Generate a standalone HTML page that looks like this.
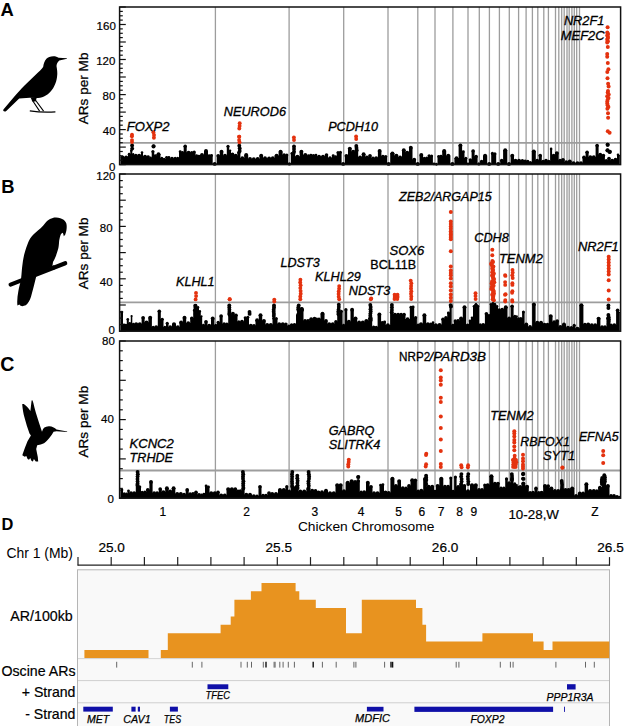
<!DOCTYPE html>
<html><head><meta charset="utf-8"><style>
html,body{margin:0;padding:0;background:#fff;}
svg{display:block;font-family:"Liberation Sans",sans-serif;}
.it{font-style:italic;}
</style></head><body>
<svg width="624" height="726" viewBox="0 0 624 726">
<rect width="624" height="726" fill="#fff"/>
<g stroke="#9d9d9d" stroke-width="1.3"><line x1="215.4" y1="7.0" x2="215.4" y2="164.6"/><line x1="289.1" y1="7.0" x2="289.1" y2="164.6"/><line x1="343.7" y1="7.0" x2="343.7" y2="164.6"/><line x1="388.0" y1="7.0" x2="388.0" y2="164.6"/><line x1="417.8" y1="7.0" x2="417.8" y2="164.6"/><line x1="435.0" y1="7.0" x2="435.0" y2="164.6"/><line x1="452.9" y1="7.0" x2="452.9" y2="164.6"/><line x1="468.0" y1="7.0" x2="468.0" y2="164.6"/><line x1="479.3" y1="7.0" x2="479.3" y2="164.6"/><line x1="489.4" y1="7.0" x2="489.4" y2="164.6"/><line x1="499.4" y1="7.0" x2="499.4" y2="164.6"/><line x1="509.3" y1="7.0" x2="509.3" y2="164.6"/><line x1="518.6" y1="7.0" x2="518.6" y2="164.6"/><line x1="526.1" y1="7.0" x2="526.1" y2="164.6"/><line x1="532.4" y1="7.0" x2="532.4" y2="164.6"/><line x1="537.8" y1="7.0" x2="537.8" y2="164.6"/><line x1="543.8" y1="7.0" x2="543.8" y2="164.6"/><line x1="548.4" y1="7.0" x2="548.4" y2="164.6"/><line x1="555.5" y1="7.0" x2="555.5" y2="164.6"/><line x1="558.8" y1="7.0" x2="558.8" y2="164.6"/><line x1="561.7" y1="7.0" x2="561.7" y2="164.6"/><line x1="564.2" y1="7.0" x2="564.2" y2="164.6"/><line x1="567.0" y1="7.0" x2="567.0" y2="164.6"/><line x1="569.2" y1="7.0" x2="569.2" y2="164.6"/><line x1="571.9" y1="7.0" x2="571.9" y2="164.6"/><line x1="574.3" y1="7.0" x2="574.3" y2="164.6"/><line x1="576.7" y1="7.0" x2="576.7" y2="164.6"/><line x1="579.5" y1="7.0" x2="579.5" y2="164.6"/></g>
<line x1="119.6" y1="142.8" x2="620.6" y2="142.8" stroke="#9d9d9d" stroke-width="1.8"/>
<g fill="#000"><path d="M120.4 164.6V155.5H120.8V164.6zM120.8 164.6V157.1H124.5V164.6zM124.5 164.6V157.1H128.0V164.6zM128.0 164.6V153.9H130.3V164.6zM130.3 164.6V150.3H132.3V164.6zM132.3 164.6V153.9H134.0V164.6zM134.0 164.6V155.5H137.5V164.6zM137.5 164.6V155.5H141.0V164.6zM141.0 164.6V152.3H143.0V164.6zM143.0 164.6V156.3H147.0V164.6zM147.0 164.6V156.3H149.3V164.6zM149.3 164.6V157.7H151.7V164.6zM151.7 164.6V151.3H154.2V164.6zM154.2 164.6V155.5H156.5V164.6zM156.5 164.6V153.9H160.5V164.6zM160.5 164.6V157.9H163.0V164.6zM163.0 164.6V158.9H165.5V164.6zM165.5 164.6V157.1H167.7V164.6zM167.7 164.6V157.1H170.0V164.6zM170.0 164.6V158.5H174.0V164.6zM174.0 164.6V157.9H176.5V164.6zM176.5 164.6V158.1H179.0V164.6zM179.0 164.6V151.5H181.3V164.6zM181.3 164.6V152.2H183.7V164.6zM183.7 164.6V145.9H186.7V164.6zM186.7 164.6V152.3H190.5V164.6zM190.5 164.6V152.3H193.0V164.6zM193.0 164.6V151.7H195.5V164.6zM195.5 164.6V155.5H197.8V164.6zM197.8 164.6V155.8H200.0V164.6zM200.0 164.6V154.7H204.0V164.6zM204.0 164.6V150.7H208.0V164.6zM208.0 164.6V155.5H210.3V164.6zM210.3 164.6V155.2H212.7V164.6zM212.7 164.6V163.6H216.7V164.6zM216.7 164.6V155.5H219.8V164.6zM219.8 164.6V151.5H223.2V164.6zM223.2 164.6V155.5H226.8V164.6zM226.8 164.6V145.9H229.2V164.6zM229.2 164.6V150.3H231.0V164.6zM231.0 164.6V153.9H234.0V164.6zM234.0 164.6V155.5H237.4V164.6zM237.4 164.6V152.3H240.4V164.6zM240.4 164.6V157.9H244.2V164.6zM244.2 164.6V154.7H248.2V164.6zM248.2 164.6V158.7H251.8V164.6zM251.8 164.6V158.9H255.8V164.6zM255.8 164.6V158.7H259.5V164.6zM259.5 164.6V155.5H263.0V164.6zM263.0 164.6V157.9H267.1V164.6zM267.1 164.6V158.2H271.1V164.6zM271.1 164.6V157.9H274.5V164.6zM274.5 164.6V155.5H278.6V164.6zM278.6 164.6V151.5H282.6V164.6zM282.6 164.6V154.7H285.5V164.6zM285.5 164.6V154.7H288.1V164.6zM288.1 164.6V163.6H290.8V164.6zM290.8 164.6V153.1H293.0V164.6zM293.0 164.6V152.7H295.2V164.6zM295.2 164.6V156.3H299.6V164.6zM299.6 164.6V151.5H303.1V164.6zM303.1 164.6V154.7H307.5V164.6zM307.5 164.6V155.5H309.8V164.6zM309.8 164.6V155.0H312.0V164.6zM312.0 164.6V155.5H315.0V164.6zM315.0 164.6V154.7H317.0V164.6zM317.0 164.6V156.3H321.0V164.6zM321.0 164.6V156.3H325.0V164.6zM325.0 164.6V154.7H328.0V164.6zM328.0 164.6V157.9H332.0V164.6zM332.0 164.6V155.5H334.4V164.6zM334.4 164.6V156.4H336.8V164.6zM336.8 164.6V152.3H339.2V164.6zM339.2 164.6V152.0H341.6V164.6zM341.6 164.6V163.6H344.9V164.6zM344.9 164.6V155.5H348.0V164.6zM348.0 164.6V148.3H351.5V164.6zM351.5 164.6V151.5H354.8V164.6zM354.8 164.6V150.3H358.2V164.6zM358.2 164.6V157.1H361.9V164.6zM361.9 164.6V153.9H365.4V164.6zM365.4 164.6V157.1H368.5V164.6zM368.5 164.6V155.5H371.5V164.6zM371.5 164.6V157.9H374.5V164.6zM374.5 164.6V157.9H377.9V164.6zM377.9 164.6V150.7H381.4V164.6zM381.4 164.6V156.3H384.5V164.6zM384.5 164.6V156.3H387.0V164.6zM387.0 164.6V163.6H390.2V164.6zM390.2 164.6V153.1H394.5V164.6zM394.5 164.6V155.5H398.2V164.6zM398.2 164.6V157.1H402.0V164.6zM402.0 164.6V149.9H405.5V164.6zM405.5 164.6V152.3H409.0V164.6zM409.0 164.6V147.5H412.5V164.6zM412.5 164.6V159.5H415.9V164.6zM415.9 164.6V163.6H419.5V164.6zM419.5 164.6V154.7H423.1V164.6zM423.1 164.6V157.9H425.5V164.6zM425.5 164.6V157.8H427.9V164.6zM427.9 164.6V155.5H430.4V164.6zM430.4 164.6V155.7H432.9V164.6zM432.9 164.6V163.6H435.2V164.6zM435.2 164.6V164.0H437.5V164.6zM437.5 164.6V156.3H439.9V164.6zM439.9 164.6V155.9H442.2V164.6zM442.2 164.6V150.7H446.2V164.6zM446.2 164.6V155.5H450.4V164.6zM450.4 164.6V163.6H454.4V164.6zM454.4 164.6V157.9H458.6V164.6zM458.6 164.6V145.1H462.1V164.6zM462.1 164.6V151.5H464.5V164.6zM464.5 164.6V157.9H467.0V164.6zM467.0 164.6V163.6H469.0V164.6zM469.0 164.6V159.5H471.6V164.6zM471.6 164.6V150.7H474.6V164.6zM474.6 164.6V156.3H477.6V164.6zM477.6 164.6V163.6H480.1V164.6zM480.1 164.6V161.1H483.0V164.6zM483.0 164.6V155.5H487.2V164.6zM487.2 164.6V163.6H491.2V164.6zM491.2 164.6V153.1H493.7V164.6zM493.7 164.6V153.4H496.2V164.6zM496.2 164.6V163.6H500.2V164.6zM500.2 164.6V160.3H503.1V164.6zM503.1 164.6V149.9H507.3V164.6zM507.3 164.6V163.6H510.6V164.6zM510.6 164.6V155.5H514.0V164.6zM514.0 164.6V160.3H517.0V164.6zM517.0 164.6V160.3H521.0V164.6zM521.0 164.6V160.3H523.8V164.6zM523.8 164.6V160.8H526.5V164.6zM526.5 164.6V161.1H529.1V164.6zM529.1 164.6V162.3H531.8V164.6zM531.8 164.6V151.1H535.8V164.6zM535.8 164.6V160.3H538.8V164.6zM538.8 164.6V155.3H541.8V164.6zM541.8 164.6V161.1H544.5V164.6zM544.5 164.6V160.3H547.5V164.6zM547.5 164.6V161.1H550.1V164.6zM550.1 164.6V148.6H552.1V164.6zM552.1 164.6V155.3H555.1V164.6zM555.1 164.6V152.8H558.6V164.6zM558.6 164.6V160.3H561.5V164.6zM561.5 164.6V159.5H564.5V164.6zM564.5 164.6V162.0H568.0V164.6zM568.0 164.6V161.1H571.5V164.6zM571.5 164.6V162.8H575.5V164.6zM575.5 164.6V162.8H579.5V164.6zM579.5 164.6V162.8H582.5V164.6zM582.5 164.6V157.0H585.6V164.6zM585.6 164.6V152.0H588.6V164.6zM588.6 164.6V157.0H592.0V164.6zM592.0 164.6V157.0H595.6V164.6zM595.6 164.6V145.3H598.6V164.6zM598.6 164.6V154.5H601.9V164.6zM601.9 164.6V155.3H604.9V164.6zM604.9 164.6V160.3H607.5V164.6zM607.5 164.6V158.3H610.5V164.6zM610.5 164.6V160.3H614.0V164.6zM614.0 164.6V159.3H617.0V164.6zM617.0 164.6V154.5H619.0V164.6zM619.0 164.6V155.3H619.8V164.6z"/><circle cx="120.6" cy="155.8" r="0.48"/><circle cx="122.6" cy="157.4" r="1.95"/><circle cx="126.2" cy="157.4" r="1.95"/><circle cx="129.2" cy="154.2" r="1.45"/><circle cx="131.3" cy="150.6" r="1.30"/><circle cx="133.2" cy="154.2" r="1.15"/><circle cx="135.8" cy="155.8" r="1.95"/><circle cx="139.2" cy="155.8" r="1.95"/><circle cx="142.0" cy="152.6" r="1.30"/><circle cx="145.0" cy="156.6" r="1.95"/><circle cx="148.2" cy="156.6" r="1.46"/><circle cx="150.5" cy="158.0" r="1.46"/><circle cx="152.9" cy="151.6" r="1.55"/><circle cx="155.3" cy="155.8" r="1.47"/><circle cx="158.5" cy="154.2" r="1.95"/><circle cx="161.8" cy="158.2" r="1.55"/><circle cx="164.2" cy="159.2" r="1.55"/><circle cx="166.6" cy="157.4" r="1.42"/><circle cx="168.9" cy="157.4" r="1.42"/><circle cx="172.0" cy="158.8" r="1.95"/><circle cx="175.2" cy="158.2" r="1.55"/><circle cx="177.7" cy="158.4" r="1.55"/><circle cx="180.2" cy="151.8" r="1.46"/><circle cx="182.5" cy="152.5" r="1.46"/><circle cx="185.2" cy="146.2" r="1.80"/><circle cx="188.6" cy="152.6" r="1.95"/><circle cx="191.8" cy="152.6" r="1.55"/><circle cx="194.2" cy="152.0" r="1.55"/><circle cx="196.6" cy="155.8" r="1.43"/><circle cx="198.9" cy="156.1" r="1.43"/><circle cx="202.0" cy="155.0" r="1.95"/><circle cx="206.0" cy="151.0" r="1.95"/><circle cx="209.2" cy="155.8" r="1.47"/><circle cx="211.5" cy="155.5" r="1.47"/><circle cx="214.7" cy="163.9" r="1.95"/><circle cx="218.2" cy="155.8" r="1.83"/><circle cx="221.5" cy="151.8" r="1.95"/><circle cx="225.0" cy="155.8" r="1.95"/><circle cx="228.0" cy="146.2" r="1.55"/><circle cx="230.1" cy="150.6" r="1.18"/><circle cx="232.5" cy="154.2" r="1.80"/><circle cx="235.7" cy="155.8" r="1.95"/><circle cx="238.9" cy="152.6" r="1.80"/><circle cx="242.3" cy="158.2" r="1.95"/><circle cx="246.2" cy="155.0" r="1.95"/><circle cx="250.0" cy="159.0" r="1.95"/><circle cx="253.8" cy="159.2" r="1.95"/><circle cx="257.7" cy="159.0" r="1.95"/><circle cx="261.2" cy="155.8" r="1.95"/><circle cx="265.0" cy="158.2" r="1.95"/><circle cx="269.1" cy="158.5" r="1.95"/><circle cx="272.8" cy="158.2" r="1.95"/><circle cx="276.6" cy="155.8" r="1.95"/><circle cx="280.6" cy="151.8" r="1.95"/><circle cx="284.1" cy="155.0" r="1.73"/><circle cx="286.8" cy="155.0" r="1.58"/><circle cx="289.4" cy="163.9" r="1.68"/><circle cx="291.9" cy="153.4" r="1.41"/><circle cx="294.1" cy="153.0" r="1.41"/><circle cx="297.4" cy="156.6" r="1.95"/><circle cx="301.4" cy="151.8" r="1.95"/><circle cx="305.3" cy="155.0" r="1.95"/><circle cx="308.6" cy="155.8" r="1.43"/><circle cx="310.9" cy="155.3" r="1.43"/><circle cx="313.5" cy="155.8" r="1.80"/><circle cx="316.0" cy="155.0" r="1.30"/><circle cx="319.0" cy="156.6" r="1.95"/><circle cx="323.0" cy="156.6" r="1.95"/><circle cx="326.5" cy="155.0" r="1.80"/><circle cx="330.0" cy="158.2" r="1.95"/><circle cx="333.2" cy="155.8" r="1.49"/><circle cx="335.6" cy="156.7" r="1.49"/><circle cx="338.0" cy="152.6" r="1.51"/><circle cx="340.4" cy="152.3" r="1.51"/><circle cx="343.2" cy="163.9" r="1.93"/><circle cx="346.4" cy="155.8" r="1.87"/><circle cx="349.8" cy="148.6" r="1.95"/><circle cx="353.1" cy="151.8" r="1.93"/><circle cx="356.5" cy="150.6" r="1.95"/><circle cx="360.1" cy="157.4" r="1.95"/><circle cx="363.6" cy="154.2" r="1.95"/><circle cx="366.9" cy="157.4" r="1.85"/><circle cx="370.0" cy="155.8" r="1.80"/><circle cx="373.0" cy="158.2" r="1.80"/><circle cx="376.2" cy="158.2" r="1.95"/><circle cx="379.6" cy="151.0" r="1.95"/><circle cx="382.9" cy="156.6" r="1.87"/><circle cx="385.8" cy="156.6" r="1.55"/><circle cx="388.6" cy="163.9" r="1.93"/><circle cx="392.4" cy="153.4" r="1.95"/><circle cx="396.4" cy="155.8" r="1.95"/><circle cx="400.1" cy="157.4" r="1.95"/><circle cx="403.8" cy="150.2" r="1.95"/><circle cx="407.2" cy="152.6" r="1.95"/><circle cx="410.8" cy="147.8" r="1.95"/><circle cx="414.2" cy="159.8" r="1.95"/><circle cx="417.7" cy="163.9" r="1.95"/><circle cx="421.3" cy="155.0" r="1.95"/><circle cx="424.3" cy="158.2" r="1.50"/><circle cx="426.7" cy="158.1" r="1.50"/><circle cx="429.1" cy="155.8" r="1.55"/><circle cx="431.6" cy="156.0" r="1.55"/><circle cx="434.0" cy="163.9" r="1.45"/><circle cx="436.4" cy="164.3" r="1.45"/><circle cx="438.7" cy="156.6" r="1.48"/><circle cx="441.0" cy="156.2" r="1.47"/><circle cx="444.2" cy="151.0" r="1.95"/><circle cx="448.3" cy="155.8" r="1.95"/><circle cx="452.4" cy="163.9" r="1.95"/><circle cx="456.5" cy="158.2" r="1.95"/><circle cx="460.4" cy="145.4" r="1.95"/><circle cx="463.3" cy="151.8" r="1.48"/><circle cx="465.8" cy="158.2" r="1.55"/><circle cx="468.0" cy="163.9" r="1.30"/><circle cx="470.3" cy="159.8" r="1.62"/><circle cx="473.1" cy="151.0" r="1.80"/><circle cx="476.1" cy="156.6" r="1.80"/><circle cx="478.9" cy="163.9" r="1.55"/><circle cx="481.6" cy="161.4" r="1.73"/><circle cx="485.1" cy="155.8" r="1.95"/><circle cx="489.2" cy="163.9" r="1.95"/><circle cx="492.4" cy="153.4" r="1.55"/><circle cx="494.9" cy="153.7" r="1.55"/><circle cx="498.2" cy="163.9" r="1.95"/><circle cx="501.7" cy="160.6" r="1.77"/><circle cx="505.2" cy="150.2" r="1.95"/><circle cx="509.0" cy="163.9" r="1.95"/><circle cx="512.3" cy="155.8" r="1.95"/><circle cx="515.5" cy="160.6" r="1.80"/><circle cx="519.0" cy="160.6" r="1.95"/><circle cx="522.4" cy="160.6" r="1.68"/><circle cx="525.1" cy="161.1" r="1.68"/><circle cx="527.8" cy="161.4" r="1.61"/><circle cx="530.4" cy="162.6" r="1.61"/><circle cx="533.8" cy="151.4" r="1.95"/><circle cx="537.2" cy="160.6" r="1.80"/><circle cx="540.2" cy="155.6" r="1.80"/><circle cx="543.1" cy="161.4" r="1.68"/><circle cx="546.0" cy="160.6" r="1.80"/><circle cx="548.8" cy="161.4" r="1.62"/><circle cx="551.1" cy="148.9" r="1.30"/><circle cx="553.6" cy="155.6" r="1.78"/><circle cx="556.9" cy="153.1" r="1.95"/><circle cx="560.0" cy="160.6" r="1.75"/><circle cx="563.0" cy="159.8" r="1.80"/><circle cx="566.2" cy="162.3" r="1.95"/><circle cx="569.8" cy="161.4" r="1.95"/><circle cx="573.5" cy="163.1" r="1.95"/><circle cx="577.5" cy="163.1" r="1.95"/><circle cx="581.0" cy="163.1" r="1.80"/><circle cx="584.0" cy="157.3" r="1.85"/><circle cx="587.1" cy="152.3" r="1.80"/><circle cx="590.3" cy="157.3" r="1.95"/><circle cx="593.8" cy="157.3" r="1.95"/><circle cx="597.1" cy="145.6" r="1.80"/><circle cx="600.2" cy="154.8" r="1.95"/><circle cx="603.4" cy="155.6" r="1.80"/><circle cx="606.2" cy="160.6" r="1.60"/><circle cx="609.0" cy="158.6" r="1.80"/><circle cx="612.2" cy="160.6" r="1.95"/><circle cx="615.5" cy="159.6" r="1.80"/><circle cx="618.0" cy="154.8" r="1.30"/><circle cx="619.4" cy="155.6" r="0.70"/></g>
<g fill="#000"><circle cx="132.1" cy="145.5" r="1.95"/><circle cx="132.2" cy="148.6" r="1.95"/><circle cx="153.5" cy="146.5" r="1.95"/><circle cx="153.6" cy="146.1" r="1.95"/><circle cx="239.3" cy="145.7" r="1.95"/><circle cx="239.7" cy="148.4" r="1.95"/><circle cx="239.7" cy="151.1" r="1.95"/><circle cx="294.0" cy="146.4" r="1.95"/><circle cx="294.0" cy="149.0" r="1.95"/><circle cx="294.0" cy="151.6" r="1.95"/><circle cx="356.3" cy="145.9" r="1.95"/><circle cx="356.5" cy="148.0" r="1.95"/><circle cx="356.6" cy="150.1" r="1.95"/><circle cx="607.7" cy="144.7" r="1.95"/><circle cx="607.6" cy="144.7" r="1.95"/><circle cx="607.5" cy="150.5" r="1.95"/><circle cx="607.5" cy="150.3" r="1.95"/><circle cx="609.6" cy="152.1" r="1.95"/><circle cx="609.9" cy="151.7" r="1.95"/></g>
<g fill="#e4320f"><circle cx="132.0" cy="134.7" r="1.95"/><circle cx="131.9" cy="136.3" r="1.95"/><circle cx="132.0" cy="142.1" r="1.95"/><circle cx="132.0" cy="140.1" r="1.95"/><circle cx="153.4" cy="132.3" r="1.95"/><circle cx="154.0" cy="135.0" r="1.95"/><circle cx="153.9" cy="137.7" r="1.95"/><circle cx="239.7" cy="123.3" r="1.95"/><circle cx="239.6" cy="125.9" r="1.95"/><circle cx="239.3" cy="128.5" r="1.95"/><circle cx="239.3" cy="136.8" r="1.95"/><circle cx="239.1" cy="136.8" r="1.95"/><circle cx="239.5" cy="142.2" r="1.95"/><circle cx="239.1" cy="140.1" r="1.95"/><circle cx="293.9" cy="137.4" r="1.95"/><circle cx="294.0" cy="140.1" r="1.95"/><circle cx="356.1" cy="136.4" r="1.95"/><circle cx="356.2" cy="139.1" r="1.95"/></g>
<g fill="#e4320f"><circle cx="607.6" cy="27.2" r="2.0"/><circle cx="607.3" cy="32.6" r="2.0"/><circle cx="608.1" cy="34.0" r="2.0"/><circle cx="607.2" cy="35.4" r="2.0"/><circle cx="608.0" cy="36.9" r="2.0"/><circle cx="607.7" cy="38.3" r="2.0"/><circle cx="607.2" cy="39.7" r="2.0"/><circle cx="607.9" cy="41.2" r="2.0"/><circle cx="607.2" cy="42.6" r="2.0"/><circle cx="607.8" cy="46.9" r="2.0"/><circle cx="607.2" cy="54.1" r="2.0"/><circle cx="607.2" cy="56.8" r="2.0"/><circle cx="607.8" cy="63.0" r="2.0"/><circle cx="608.4" cy="69.3" r="2.0"/><circle cx="607.3" cy="72.0" r="2.0"/><circle cx="607.5" cy="78.3" r="2.0"/><circle cx="608.1" cy="83.7" r="2.0"/><circle cx="608.6" cy="86.4" r="2.0"/><circle cx="608.0" cy="90.9" r="2.0"/><circle cx="607.7" cy="92.6" r="2.0"/><circle cx="608.7" cy="94.4" r="2.0"/><circle cx="607.2" cy="96.2" r="2.0"/><circle cx="608.5" cy="98.0" r="2.0"/><circle cx="607.6" cy="99.8" r="2.0"/><circle cx="607.3" cy="101.6" r="2.0"/><circle cx="607.3" cy="103.4" r="2.0"/><circle cx="607.6" cy="105.2" r="2.0"/><circle cx="608.4" cy="107.0" r="2.0"/><circle cx="607.4" cy="108.8" r="2.0"/><circle cx="608.0" cy="113.3" r="2.0"/><circle cx="608.1" cy="117.8" r="2.0"/><circle cx="607.8" cy="131.3" r="2.0"/><circle cx="609.6" cy="132.7" r="2.0"/></g>
<rect x="119.6" y="7.0" width="501.0" height="157.6" fill="none" stroke="#111" stroke-width="1.5"/>
<g stroke="#111" stroke-width="1.2"><line x1="119.6" y1="164.6" x2="125.8" y2="164.6"/><line x1="119.6" y1="160.2" x2="122.8" y2="160.2"/><line x1="119.6" y1="155.8" x2="122.8" y2="155.8"/><line x1="119.6" y1="151.5" x2="122.8" y2="151.5"/><line x1="119.6" y1="147.1" x2="125.8" y2="147.1"/><line x1="119.6" y1="142.7" x2="122.8" y2="142.7"/><line x1="119.6" y1="138.3" x2="122.8" y2="138.3"/><line x1="119.6" y1="134.0" x2="122.8" y2="134.0"/><line x1="119.6" y1="129.6" x2="125.8" y2="129.6"/><line x1="119.6" y1="125.2" x2="122.8" y2="125.2"/><line x1="119.6" y1="120.8" x2="122.8" y2="120.8"/><line x1="119.6" y1="116.4" x2="122.8" y2="116.4"/><line x1="119.6" y1="112.1" x2="125.8" y2="112.1"/><line x1="119.6" y1="107.7" x2="122.8" y2="107.7"/><line x1="119.6" y1="103.3" x2="122.8" y2="103.3"/><line x1="119.6" y1="98.9" x2="122.8" y2="98.9"/><line x1="119.6" y1="94.6" x2="125.8" y2="94.6"/><line x1="119.6" y1="90.2" x2="122.8" y2="90.2"/><line x1="119.6" y1="85.8" x2="122.8" y2="85.8"/><line x1="119.6" y1="81.4" x2="122.8" y2="81.4"/><line x1="119.6" y1="77.0" x2="125.8" y2="77.0"/><line x1="119.6" y1="72.7" x2="122.8" y2="72.7"/><line x1="119.6" y1="68.3" x2="122.8" y2="68.3"/><line x1="119.6" y1="63.9" x2="122.8" y2="63.9"/><line x1="119.6" y1="59.5" x2="125.8" y2="59.5"/><line x1="119.6" y1="55.2" x2="122.8" y2="55.2"/><line x1="119.6" y1="50.8" x2="122.8" y2="50.8"/><line x1="119.6" y1="46.4" x2="122.8" y2="46.4"/><line x1="119.6" y1="42.0" x2="125.8" y2="42.0"/><line x1="119.6" y1="37.6" x2="122.8" y2="37.6"/><line x1="119.6" y1="33.3" x2="122.8" y2="33.3"/><line x1="119.6" y1="28.9" x2="122.8" y2="28.9"/><line x1="119.6" y1="24.5" x2="125.8" y2="24.5"/><line x1="119.6" y1="20.1" x2="122.8" y2="20.1"/><line x1="119.6" y1="15.8" x2="122.8" y2="15.8"/><line x1="119.6" y1="11.4" x2="122.8" y2="11.4"/><line x1="119.6" y1="7.0" x2="125.8" y2="7.0"/></g>
<g font-size="11.5" text-anchor="end" fill="#000" stroke="#000" stroke-width="0.2"><text x="115.5" y="170.8">0</text><text x="115.6" y="135.1">40</text><text x="115.4" y="100.0">80</text><text x="115.4" y="64.7">120</text><text x="115.8" y="29.5">160</text></g>
<text transform="translate(87.6,88.4) rotate(-90)" font-size="13.6" text-anchor="middle" fill="#000" stroke="#000" stroke-width="0.25">ARs per Mb</text>
<g stroke="#9d9d9d" stroke-width="1.3"><line x1="215.4" y1="174.0" x2="215.4" y2="331.2"/><line x1="289.1" y1="174.0" x2="289.1" y2="331.2"/><line x1="343.7" y1="174.0" x2="343.7" y2="331.2"/><line x1="388.0" y1="174.0" x2="388.0" y2="331.2"/><line x1="417.8" y1="174.0" x2="417.8" y2="331.2"/><line x1="435.0" y1="174.0" x2="435.0" y2="331.2"/><line x1="452.9" y1="174.0" x2="452.9" y2="331.2"/><line x1="468.0" y1="174.0" x2="468.0" y2="331.2"/><line x1="479.3" y1="174.0" x2="479.3" y2="331.2"/><line x1="489.4" y1="174.0" x2="489.4" y2="331.2"/><line x1="499.4" y1="174.0" x2="499.4" y2="331.2"/><line x1="509.3" y1="174.0" x2="509.3" y2="331.2"/><line x1="518.6" y1="174.0" x2="518.6" y2="331.2"/><line x1="526.1" y1="174.0" x2="526.1" y2="331.2"/><line x1="532.4" y1="174.0" x2="532.4" y2="331.2"/><line x1="537.8" y1="174.0" x2="537.8" y2="331.2"/><line x1="543.8" y1="174.0" x2="543.8" y2="331.2"/><line x1="548.4" y1="174.0" x2="548.4" y2="331.2"/><line x1="555.5" y1="174.0" x2="555.5" y2="331.2"/><line x1="558.8" y1="174.0" x2="558.8" y2="331.2"/><line x1="561.7" y1="174.0" x2="561.7" y2="331.2"/><line x1="564.2" y1="174.0" x2="564.2" y2="331.2"/><line x1="567.0" y1="174.0" x2="567.0" y2="331.2"/><line x1="569.2" y1="174.0" x2="569.2" y2="331.2"/><line x1="571.9" y1="174.0" x2="571.9" y2="331.2"/><line x1="574.3" y1="174.0" x2="574.3" y2="331.2"/><line x1="576.7" y1="174.0" x2="576.7" y2="331.2"/><line x1="579.5" y1="174.0" x2="579.5" y2="331.2"/></g>
<line x1="119.6" y1="302.4" x2="620.6" y2="302.4" stroke="#9d9d9d" stroke-width="1.8"/>
<g fill="#000"><path d="M120.4 331.2V311.8H120.8V331.2zM120.8 331.2V311.8H123.0V331.2zM123.0 331.2V324.6H125.0V331.2zM125.0 331.2V324.6H126.8V331.2zM126.8 331.2V319.0H128.8V331.2zM128.8 331.2V323.0H130.8V331.2zM130.8 331.2V315.8H132.3V331.2zM132.3 331.2V323.8H134.5V331.2zM134.5 331.2V323.8H138.0V331.2zM138.0 331.2V323.8H141.6V331.2zM141.6 331.2V317.4H144.6V331.2zM144.6 331.2V322.2H148.4V331.2zM148.4 331.2V317.4H151.9V331.2zM151.9 331.2V327.0H154.5V331.2zM154.5 331.2V327.0H157.8V331.2zM157.8 331.2V311.0H160.8V331.2zM160.8 331.2V319.0H163.5V331.2zM163.5 331.2V327.0H166.0V331.2zM166.0 331.2V323.0H168.5V331.2zM168.5 331.2V327.0H172.0V331.2zM172.0 331.2V323.8H176.0V331.2zM176.0 331.2V327.0H179.5V331.2zM179.5 331.2V322.2H182.8V331.2zM182.8 331.2V317.4H186.2V331.2zM186.2 331.2V323.0H190.2V331.2zM190.2 331.2V318.0H193.2V331.2zM193.2 331.2V310.0H195.0V331.2zM195.0 331.2V305.0H197.0V331.2zM197.0 331.2V307.0H199.0V331.2zM199.0 331.2V311.0H200.8V331.2zM200.8 331.2V316.0H202.2V331.2zM202.2 331.2V325.0H204.5V331.2zM204.5 331.2V321.5H207.5V331.2zM207.5 331.2V325.5H211.0V331.2zM211.0 331.2V318.2H214.4V331.2zM214.4 331.2V325.0H216.9V331.2zM216.9 331.2V322.2H219.6V331.2zM219.6 331.2V315.8H222.6V331.2zM222.6 331.2V323.8H225.5V331.2zM225.5 331.2V323.8H228.2V331.2zM228.2 331.2V315.0H231.2V331.2zM231.2 331.2V313.4H234.5V331.2zM234.5 331.2V315.0H237.5V331.2zM237.5 331.2V321.5H240.0V331.2zM240.0 331.2V321.5H244.0V331.2zM244.0 331.2V317.4H246.5V331.2zM246.5 331.2V316.9H249.0V331.2zM249.0 331.2V325.5H252.5V331.2zM252.5 331.2V325.5H255.5V331.2zM255.5 331.2V320.0H258.8V331.2zM258.8 331.2V315.0H262.2V331.2zM262.2 331.2V320.6H265.5V331.2zM265.5 331.2V324.6H269.0V331.2zM269.0 331.2V324.6H272.5V331.2zM272.5 331.2V318.0H275.0V331.2zM275.0 331.2V318.2H277.5V331.2zM277.5 331.2V323.8H281.0V331.2zM281.0 331.2V323.8H284.5V331.2zM284.5 331.2V323.8H287.2V331.2zM287.2 331.2V326.0H290.2V331.2zM290.2 331.2V324.6H293.0V331.2zM293.0 331.2V324.6H296.0V331.2zM296.0 331.2V315.0H300.0V331.2zM300.0 331.2V309.0H303.5V331.2zM303.5 331.2V320.6H306.5V331.2zM306.5 331.2V320.6H309.5V331.2zM309.5 331.2V319.0H313.0V331.2zM313.0 331.2V318.2H316.0V331.2zM316.0 331.2V318.2H317.5V331.2zM317.5 331.2V319.0H320.5V331.2zM320.5 331.2V313.4H324.5V331.2zM324.5 331.2V320.6H327.5V331.2zM327.5 331.2V323.8H331.0V331.2zM331.0 331.2V323.8H334.5V331.2zM334.5 331.2V321.5H337.2V331.2zM337.2 331.2V314.0H340.0V331.2zM340.0 331.2V311.0H342.6V331.2zM342.6 331.2V324.8H344.6V331.2zM344.6 331.2V309.4H347.2V331.2zM347.2 331.2V321.5H350.5V331.2zM350.5 331.2V309.4H353.8V331.2zM353.8 331.2V318.2H357.2V331.2zM357.2 331.2V322.2H361.0V331.2zM361.0 331.2V322.2H364.5V331.2zM364.5 331.2V320.6H368.2V331.2zM368.2 331.2V318.0H372.2V331.2zM372.2 331.2V327.0H375.0V331.2zM375.0 331.2V327.0H377.6V331.2zM377.6 331.2V314.2H381.1V331.2zM381.1 331.2V322.2H383.4V331.2zM383.4 331.2V321.6H385.8V331.2zM385.8 331.2V325.0H390.1V331.2zM390.1 331.2V312.0H393.4V331.2zM393.4 331.2V314.2H396.5V331.2zM396.5 331.2V314.2H399.6V331.2zM399.6 331.2V314.2H402.6V331.2zM402.6 331.2V314.2H405.5V331.2zM405.5 331.2V319.0H409.8V331.2zM409.8 331.2V307.0H412.0V331.2zM412.0 331.2V306.7H414.2V331.2zM414.2 331.2V317.4H416.9V331.2zM416.9 331.2V324.8H419.4V331.2zM419.4 331.2V323.8H422.7V331.2zM422.7 331.2V315.0H426.2V331.2zM426.2 331.2V323.8H429.5V331.2zM429.5 331.2V323.8H432.0V331.2zM432.0 331.2V322.2H434.0V331.2zM434.0 331.2V324.8H437.5V331.2zM437.5 331.2V324.6H441.5V331.2zM441.5 331.2V319.0H444.5V331.2zM444.5 331.2V317.4H447.2V331.2zM447.2 331.2V312.6H449.5V331.2zM449.5 331.2V306.0H451.7V331.2zM451.7 331.2V324.8H453.9V331.2zM453.9 331.2V320.6H456.5V331.2zM456.5 331.2V320.6H459.5V331.2zM459.5 331.2V318.2H462.8V331.2zM462.8 331.2V307.0H466.2V331.2zM466.2 331.2V324.8H469.0V331.2zM469.0 331.2V320.6H471.0V331.2zM471.0 331.2V317.4H473.0V331.2zM473.0 331.2V306.0H475.0V331.2zM475.0 331.2V304.0H477.0V331.2zM477.0 331.2V306.0H479.0V331.2zM479.0 331.2V324.6H481.5V331.2zM481.5 331.2V324.6H484.9V331.2zM484.9 331.2V313.4H487.9V331.2zM487.9 331.2V315.0H490.0V331.2zM490.0 331.2V304.0H492.0V331.2zM492.0 331.2V303.0H494.0V331.2zM494.0 331.2V304.0H496.0V331.2zM496.0 331.2V306.0H498.0V331.2zM498.0 331.2V309.4H500.5V331.2zM500.5 331.2V309.4H504.0V331.2zM504.0 331.2V307.0H507.5V331.2zM507.5 331.2V318.0H510.6V331.2zM510.6 331.2V306.0H513.6V331.2zM513.6 331.2V316.0H516.0V331.2zM516.0 331.2V316.0H517.5V331.2zM517.5 331.2V318.3H519.5V331.2zM519.5 331.2V318.3H522.1V331.2zM522.1 331.2V311.7H524.6V331.2zM524.6 331.2V324.2H528.0V331.2zM528.0 331.2V326.7H532.1V331.2zM532.1 331.2V304.2H535.6V331.2zM535.6 331.2V322.5H539.0V331.2zM539.0 331.2V322.5H543.0V331.2zM543.0 331.2V324.2H546.0V331.2zM546.0 331.2V324.2H549.0V331.2zM549.0 331.2V315.8H552.5V331.2zM552.5 331.2V322.0H555.8V331.2zM555.8 331.2V320.8H558.8V331.2zM558.8 331.2V326.7H562.0V331.2zM562.0 331.2V324.2H566.0V331.2zM566.0 331.2V327.5H570.0V331.2zM570.0 331.2V327.5H573.0V331.2zM573.0 331.2V325.0H575.5V331.2zM575.5 331.2V328.3H579.4V331.2zM579.4 331.2V305.0H583.4V331.2zM583.4 331.2V324.2H586.5V331.2zM586.5 331.2V324.2H590.0V331.2zM590.0 331.2V325.0H593.5V331.2zM593.5 331.2V325.0H596.9V331.2zM596.9 331.2V318.3H600.4V331.2zM600.4 331.2V326.7H603.5V331.2zM603.5 331.2V326.7H606.5V331.2zM606.5 331.2V318.0H609.5V331.2zM609.5 331.2V325.0H612.5V331.2zM612.5 331.2V325.0H616.1V331.2zM616.1 331.2V310.0H619.1V331.2zM619.1 331.2V312.0H619.8V331.2z"/><circle cx="120.6" cy="312.1" r="0.50"/><circle cx="121.9" cy="312.1" r="1.40"/><circle cx="124.0" cy="324.9" r="1.30"/><circle cx="125.9" cy="324.9" r="1.22"/><circle cx="127.8" cy="319.3" r="1.30"/><circle cx="129.8" cy="323.3" r="1.30"/><circle cx="131.6" cy="316.1" r="1.05"/><circle cx="133.4" cy="324.1" r="1.38"/><circle cx="136.2" cy="324.1" r="1.95"/><circle cx="139.8" cy="324.1" r="1.95"/><circle cx="143.1" cy="317.7" r="1.80"/><circle cx="146.5" cy="322.5" r="1.95"/><circle cx="150.2" cy="317.7" r="1.95"/><circle cx="153.2" cy="327.3" r="1.60"/><circle cx="156.2" cy="327.3" r="1.95"/><circle cx="159.3" cy="311.3" r="1.80"/><circle cx="162.2" cy="319.3" r="1.63"/><circle cx="164.8" cy="327.3" r="1.55"/><circle cx="167.2" cy="323.3" r="1.55"/><circle cx="170.2" cy="327.3" r="1.95"/><circle cx="174.0" cy="324.1" r="1.95"/><circle cx="177.8" cy="327.3" r="1.95"/><circle cx="181.1" cy="322.5" r="1.93"/><circle cx="184.5" cy="317.7" r="1.95"/><circle cx="188.2" cy="323.3" r="1.95"/><circle cx="191.8" cy="318.3" r="1.80"/><circle cx="194.1" cy="310.3" r="1.18"/><circle cx="196.0" cy="305.3" r="1.30"/><circle cx="198.0" cy="307.3" r="1.30"/><circle cx="199.9" cy="311.3" r="1.18"/><circle cx="201.5" cy="316.3" r="1.05"/><circle cx="203.4" cy="325.3" r="1.43"/><circle cx="206.0" cy="321.8" r="1.80"/><circle cx="209.2" cy="325.8" r="1.95"/><circle cx="212.7" cy="318.5" r="1.95"/><circle cx="215.7" cy="325.3" r="1.55"/><circle cx="218.2" cy="322.5" r="1.65"/><circle cx="221.1" cy="316.1" r="1.80"/><circle cx="224.1" cy="324.1" r="1.75"/><circle cx="226.9" cy="324.1" r="1.68"/><circle cx="229.8" cy="315.3" r="1.80"/><circle cx="232.9" cy="313.7" r="1.93"/><circle cx="236.0" cy="315.3" r="1.80"/><circle cx="238.8" cy="321.8" r="1.55"/><circle cx="242.0" cy="321.8" r="1.95"/><circle cx="245.2" cy="317.7" r="1.55"/><circle cx="247.8" cy="317.2" r="1.55"/><circle cx="250.8" cy="325.8" r="1.95"/><circle cx="254.0" cy="325.8" r="1.80"/><circle cx="257.1" cy="320.3" r="1.93"/><circle cx="260.5" cy="315.3" r="1.95"/><circle cx="263.9" cy="320.9" r="1.93"/><circle cx="267.2" cy="324.9" r="1.95"/><circle cx="270.8" cy="324.9" r="1.95"/><circle cx="273.8" cy="318.3" r="1.55"/><circle cx="276.2" cy="318.5" r="1.55"/><circle cx="279.2" cy="324.1" r="1.95"/><circle cx="282.8" cy="324.1" r="1.95"/><circle cx="285.9" cy="324.1" r="1.68"/><circle cx="288.8" cy="326.3" r="1.80"/><circle cx="291.6" cy="324.9" r="1.68"/><circle cx="294.5" cy="324.9" r="1.80"/><circle cx="298.0" cy="315.3" r="1.95"/><circle cx="301.8" cy="309.3" r="1.95"/><circle cx="305.0" cy="320.9" r="1.80"/><circle cx="308.0" cy="320.9" r="1.80"/><circle cx="311.2" cy="319.3" r="1.95"/><circle cx="314.5" cy="318.5" r="1.80"/><circle cx="316.8" cy="318.5" r="1.05"/><circle cx="319.0" cy="319.3" r="1.80"/><circle cx="322.5" cy="313.7" r="1.95"/><circle cx="326.0" cy="320.9" r="1.80"/><circle cx="329.2" cy="324.1" r="1.95"/><circle cx="332.8" cy="324.1" r="1.95"/><circle cx="335.9" cy="321.8" r="1.68"/><circle cx="338.6" cy="314.3" r="1.68"/><circle cx="341.3" cy="311.3" r="1.60"/><circle cx="343.6" cy="325.1" r="1.30"/><circle cx="345.9" cy="309.7" r="1.62"/><circle cx="348.9" cy="321.8" r="1.93"/><circle cx="352.1" cy="309.7" r="1.93"/><circle cx="355.5" cy="318.5" r="1.95"/><circle cx="359.1" cy="322.5" r="1.95"/><circle cx="362.8" cy="322.5" r="1.95"/><circle cx="366.4" cy="320.9" r="1.95"/><circle cx="370.2" cy="318.3" r="1.95"/><circle cx="373.6" cy="327.3" r="1.68"/><circle cx="376.3" cy="327.3" r="1.62"/><circle cx="379.4" cy="314.5" r="1.95"/><circle cx="382.3" cy="322.5" r="1.45"/><circle cx="384.6" cy="321.9" r="1.45"/><circle cx="387.9" cy="325.3" r="1.95"/><circle cx="391.7" cy="312.3" r="1.93"/><circle cx="394.9" cy="314.5" r="1.87"/><circle cx="398.1" cy="314.5" r="1.87"/><circle cx="401.1" cy="314.5" r="1.80"/><circle cx="404.1" cy="314.5" r="1.73"/><circle cx="407.6" cy="319.3" r="1.95"/><circle cx="410.9" cy="307.3" r="1.43"/><circle cx="413.1" cy="307.0" r="1.43"/><circle cx="415.6" cy="317.7" r="1.62"/><circle cx="418.1" cy="325.1" r="1.55"/><circle cx="421.0" cy="324.1" r="1.95"/><circle cx="424.4" cy="315.3" r="1.95"/><circle cx="427.9" cy="324.1" r="1.95"/><circle cx="430.8" cy="324.1" r="1.55"/><circle cx="433.0" cy="322.5" r="1.30"/><circle cx="435.8" cy="325.1" r="1.95"/><circle cx="439.5" cy="324.9" r="1.95"/><circle cx="443.0" cy="319.3" r="1.80"/><circle cx="445.9" cy="317.7" r="1.68"/><circle cx="448.4" cy="312.9" r="1.43"/><circle cx="450.6" cy="306.3" r="1.40"/><circle cx="452.8" cy="325.1" r="1.43"/><circle cx="455.2" cy="320.9" r="1.58"/><circle cx="458.0" cy="320.9" r="1.80"/><circle cx="461.1" cy="318.5" r="1.93"/><circle cx="464.5" cy="307.3" r="1.95"/><circle cx="467.6" cy="325.1" r="1.68"/><circle cx="470.0" cy="320.9" r="1.30"/><circle cx="472.0" cy="317.7" r="1.30"/><circle cx="474.0" cy="306.3" r="1.30"/><circle cx="476.0" cy="304.3" r="1.30"/><circle cx="478.0" cy="306.3" r="1.30"/><circle cx="480.2" cy="324.9" r="1.55"/><circle cx="483.2" cy="324.9" r="1.95"/><circle cx="486.4" cy="313.7" r="1.80"/><circle cx="489.0" cy="315.3" r="1.33"/><circle cx="491.0" cy="304.3" r="1.30"/><circle cx="493.0" cy="303.3" r="1.30"/><circle cx="495.0" cy="304.3" r="1.30"/><circle cx="497.0" cy="306.3" r="1.30"/><circle cx="499.2" cy="309.7" r="1.55"/><circle cx="502.2" cy="309.7" r="1.95"/><circle cx="505.8" cy="307.3" r="1.95"/><circle cx="509.1" cy="318.3" r="1.85"/><circle cx="512.1" cy="306.3" r="1.80"/><circle cx="514.8" cy="316.3" r="1.50"/><circle cx="516.8" cy="316.3" r="1.05"/><circle cx="518.5" cy="318.6" r="1.30"/><circle cx="520.8" cy="318.6" r="1.62"/><circle cx="523.4" cy="312.0" r="1.55"/><circle cx="526.3" cy="324.5" r="1.95"/><circle cx="530.0" cy="327.0" r="1.95"/><circle cx="533.9" cy="304.5" r="1.95"/><circle cx="537.3" cy="322.8" r="1.95"/><circle cx="541.0" cy="322.8" r="1.95"/><circle cx="544.5" cy="324.5" r="1.80"/><circle cx="547.5" cy="324.5" r="1.78"/><circle cx="550.7" cy="316.1" r="1.95"/><circle cx="554.1" cy="322.3" r="1.95"/><circle cx="557.2" cy="321.1" r="1.80"/><circle cx="560.4" cy="327.0" r="1.93"/><circle cx="564.0" cy="324.5" r="1.95"/><circle cx="568.0" cy="327.8" r="1.95"/><circle cx="571.5" cy="327.8" r="1.80"/><circle cx="574.2" cy="325.3" r="1.55"/><circle cx="577.4" cy="328.6" r="1.95"/><circle cx="581.4" cy="305.3" r="1.95"/><circle cx="584.9" cy="324.5" r="1.87"/><circle cx="588.2" cy="324.5" r="1.95"/><circle cx="591.8" cy="325.3" r="1.95"/><circle cx="595.2" cy="325.3" r="1.95"/><circle cx="598.6" cy="318.6" r="1.95"/><circle cx="602.0" cy="327.0" r="1.85"/><circle cx="605.0" cy="327.0" r="1.80"/><circle cx="608.0" cy="318.3" r="1.80"/><circle cx="611.0" cy="325.3" r="1.80"/><circle cx="614.3" cy="325.3" r="1.95"/><circle cx="617.6" cy="310.3" r="1.80"/><circle cx="619.5" cy="312.3" r="0.63"/></g>
<g fill="#000"><circle cx="195.2" cy="305.7" r="1.95"/><circle cx="195.4" cy="307.8" r="1.95"/><circle cx="195.2" cy="309.9" r="1.95"/><circle cx="195.8" cy="312.0" r="1.95"/><circle cx="195.6" cy="314.1" r="1.95"/><circle cx="229.3" cy="305.4" r="1.95"/><circle cx="229.3" cy="307.6" r="1.95"/><circle cx="229.4" cy="309.8" r="1.95"/><circle cx="229.4" cy="311.9" r="1.95"/><circle cx="229.2" cy="314.1" r="1.95"/><circle cx="249.5" cy="311.9" r="1.95"/><circle cx="249.6" cy="313.9" r="1.95"/><circle cx="274.0" cy="305.4" r="1.95"/><circle cx="274.0" cy="307.5" r="1.95"/><circle cx="273.7" cy="309.7" r="1.95"/><circle cx="273.7" cy="311.8" r="1.95"/><circle cx="273.9" cy="314.0" r="1.95"/><circle cx="273.8" cy="316.1" r="1.95"/><circle cx="298.7" cy="305.4" r="1.95"/><circle cx="298.3" cy="307.5" r="1.95"/><circle cx="298.2" cy="309.6" r="1.95"/><circle cx="298.8" cy="311.8" r="1.95"/><circle cx="298.5" cy="313.9" r="1.95"/><circle cx="298.3" cy="316.0" r="1.95"/><circle cx="298.5" cy="318.1" r="1.95"/><circle cx="301.7" cy="308.9" r="1.95"/><circle cx="302.0" cy="310.1" r="1.95"/><circle cx="338.8" cy="304.7" r="1.95"/><circle cx="338.8" cy="307.1" r="1.95"/><circle cx="338.6" cy="309.4" r="1.95"/><circle cx="338.3" cy="311.8" r="1.95"/><circle cx="338.4" cy="314.1" r="1.95"/><circle cx="370.3" cy="304.9" r="1.95"/><circle cx="370.7" cy="307.1" r="1.95"/><circle cx="370.5" cy="309.2" r="1.95"/><circle cx="370.7" cy="311.4" r="1.95"/><circle cx="370.4" cy="313.6" r="1.95"/><circle cx="370.3" cy="315.8" r="1.95"/><circle cx="370.7" cy="317.9" r="1.95"/><circle cx="370.8" cy="320.1" r="1.95"/><circle cx="391.9" cy="304.9" r="1.95"/><circle cx="391.9" cy="307.5" r="1.95"/><circle cx="391.9" cy="310.1" r="1.95"/><circle cx="451.0" cy="306.4" r="1.95"/><circle cx="450.6" cy="305.1" r="1.95"/><circle cx="476.0" cy="305.4" r="1.95"/><circle cx="475.9" cy="307.5" r="1.95"/><circle cx="475.7" cy="309.6" r="1.95"/><circle cx="475.7" cy="311.8" r="1.95"/><circle cx="475.8" cy="313.9" r="1.95"/><circle cx="475.8" cy="316.0" r="1.95"/><circle cx="476.1" cy="318.1" r="1.95"/><circle cx="493.8" cy="304.7" r="1.95"/><circle cx="493.5" cy="306.9" r="1.95"/><circle cx="493.8" cy="309.2" r="1.95"/><circle cx="493.8" cy="311.4" r="1.95"/><circle cx="493.8" cy="313.6" r="1.95"/><circle cx="493.4" cy="315.9" r="1.95"/><circle cx="493.3" cy="318.1" r="1.95"/><circle cx="608.4" cy="305.4" r="1.95"/><circle cx="608.4" cy="308.1" r="1.95"/><circle cx="608.4" cy="314.9" r="1.95"/><circle cx="608.7" cy="317.2" r="1.95"/><circle cx="608.9" cy="319.5" r="1.95"/><circle cx="608.8" cy="321.8" r="1.95"/><circle cx="608.6" cy="324.1" r="1.95"/></g>
<g fill="#e4320f"><circle cx="196.0" cy="292.9" r="1.95"/><circle cx="196.1" cy="296.1" r="1.95"/><circle cx="195.6" cy="299.4" r="1.95"/><circle cx="229.6" cy="299.3" r="1.95"/><circle cx="229.8" cy="299.3" r="1.95"/><circle cx="274.3" cy="301.6" r="1.95"/><circle cx="274.3" cy="299.6" r="1.95"/><circle cx="300.4" cy="279.7" r="1.95"/><circle cx="300.2" cy="282.5" r="1.95"/><circle cx="300.6" cy="285.3" r="1.95"/><circle cx="300.3" cy="288.1" r="1.95"/><circle cx="300.6" cy="290.9" r="1.95"/><circle cx="300.7" cy="293.7" r="1.95"/><circle cx="300.3" cy="296.5" r="1.95"/><circle cx="300.3" cy="299.3" r="1.95"/><circle cx="339.2" cy="286.1" r="1.95"/><circle cx="339.1" cy="288.7" r="1.95"/><circle cx="338.7" cy="291.4" r="1.95"/><circle cx="338.6" cy="294.0" r="1.95"/><circle cx="338.7" cy="296.7" r="1.95"/><circle cx="339.2" cy="299.3" r="1.95"/><circle cx="371.2" cy="298.5" r="1.95"/><circle cx="370.8" cy="299.3" r="1.95"/><circle cx="394.6" cy="294.7" r="1.95"/><circle cx="394.7" cy="296.9" r="1.95"/><circle cx="394.5" cy="299.1" r="1.95"/><circle cx="397.5" cy="294.7" r="1.95"/><circle cx="397.6" cy="296.9" r="1.95"/><circle cx="397.3" cy="299.1" r="1.95"/><circle cx="410.7" cy="280.6" r="1.95"/><circle cx="411.3" cy="283.2" r="1.95"/><circle cx="411.1" cy="285.9" r="1.95"/><circle cx="411.0" cy="288.5" r="1.95"/><circle cx="411.3" cy="291.2" r="1.95"/><circle cx="411.0" cy="293.8" r="1.95"/><circle cx="411.3" cy="296.5" r="1.95"/><circle cx="411.2" cy="299.1" r="1.95"/><circle cx="475.5" cy="293.2" r="1.95"/><circle cx="475.5" cy="296.1" r="1.95"/><circle cx="475.6" cy="299.1" r="1.95"/><circle cx="505.1" cy="275.1" r="1.95"/><circle cx="505.4" cy="275.9" r="1.95"/><circle cx="505.1" cy="282.1" r="1.95"/><circle cx="505.2" cy="284.9" r="1.95"/><circle cx="505.0" cy="294.8" r="1.95"/><circle cx="505.6" cy="294.3" r="1.95"/><circle cx="505.2" cy="301.5" r="1.95"/><circle cx="505.3" cy="300.1" r="1.95"/><circle cx="512.5" cy="269.9" r="1.95"/><circle cx="512.7" cy="272.6" r="1.95"/><circle cx="512.3" cy="275.3" r="1.95"/><circle cx="512.7" cy="278.0" r="1.95"/><circle cx="512.4" cy="283.3" r="1.95"/><circle cx="512.4" cy="284.9" r="1.95"/><circle cx="512.4" cy="291.2" r="1.95"/><circle cx="512.1" cy="292.8" r="1.95"/><circle cx="512.4" cy="301.5" r="1.95"/><circle cx="512.2" cy="300.1" r="1.95"/></g>
<g fill="#e4320f"><circle cx="450.8" cy="212.0" r="2.0"/><circle cx="450.8" cy="221.6" r="2.0"/><circle cx="450.8" cy="224.0" r="2.0"/><circle cx="450.8" cy="226.4" r="2.0"/><circle cx="450.8" cy="228.8" r="2.0"/><circle cx="450.8" cy="231.3" r="2.0"/><circle cx="450.8" cy="232.9" r="2.0"/><circle cx="450.8" cy="234.5" r="2.0"/><circle cx="450.8" cy="236.1" r="2.0"/><circle cx="450.8" cy="237.7" r="2.0"/><circle cx="450.8" cy="239.3" r="2.0"/><circle cx="450.8" cy="251.3" r="2.0"/><circle cx="450.8" cy="266.5" r="2.0"/><circle cx="450.8" cy="270.5" r="2.0"/><circle cx="450.8" cy="272.9" r="2.0"/><circle cx="450.8" cy="275.3" r="2.0"/><circle cx="450.8" cy="278.5" r="2.0"/><circle cx="450.8" cy="283.3" r="2.0"/><circle cx="450.8" cy="286.5" r="2.0"/><circle cx="450.8" cy="290.5" r="2.0"/><circle cx="450.8" cy="294.6" r="2.0"/><circle cx="450.8" cy="297.8" r="2.0"/><circle cx="450.8" cy="301.0" r="2.0"/><circle cx="492.3" cy="249.7" r="2.0"/><circle cx="492.3" cy="255.3" r="2.0"/><circle cx="492.4" cy="261.0" r="2.0"/><circle cx="493.0" cy="262.0" r="2.0"/><circle cx="491.4" cy="263.2" r="2.0"/><circle cx="491.4" cy="264.2" r="2.0"/><circle cx="491.9" cy="265.5" r="2.0"/><circle cx="493.4" cy="266.5" r="2.0"/><circle cx="492.6" cy="267.8" r="2.0"/><circle cx="492.2" cy="268.8" r="2.0"/><circle cx="493.1" cy="270.0" r="2.0"/><circle cx="492.7" cy="271.0" r="2.0"/><circle cx="492.2" cy="272.2" r="2.0"/><circle cx="493.7" cy="273.2" r="2.0"/><circle cx="493.4" cy="274.5" r="2.0"/><circle cx="492.0" cy="275.5" r="2.0"/><circle cx="493.0" cy="276.8" r="2.0"/><circle cx="492.9" cy="277.8" r="2.0"/><circle cx="494.0" cy="279.0" r="2.0"/><circle cx="493.5" cy="280.0" r="2.0"/><circle cx="492.1" cy="281.2" r="2.0"/><circle cx="494.3" cy="282.2" r="2.0"/><circle cx="491.6" cy="283.5" r="2.0"/><circle cx="492.5" cy="284.5" r="2.0"/><circle cx="493.6" cy="285.8" r="2.0"/><circle cx="491.7" cy="286.8" r="2.0"/><circle cx="492.8" cy="288.0" r="2.0"/><circle cx="491.3" cy="289.0" r="2.0"/><circle cx="493.3" cy="290.2" r="2.0"/><circle cx="493.6" cy="291.2" r="2.0"/><circle cx="493.0" cy="292.5" r="2.0"/><circle cx="494.0" cy="293.5" r="2.0"/><circle cx="492.2" cy="294.8" r="2.0"/><circle cx="493.4" cy="295.8" r="2.0"/><circle cx="493.1" cy="297.0" r="2.0"/><circle cx="493.1" cy="298.0" r="2.0"/><circle cx="492.7" cy="299.2" r="2.0"/><circle cx="493.9" cy="300.2" r="2.0"/><circle cx="608.7" cy="256.7" r="2.0"/><circle cx="608.7" cy="259.6" r="2.0"/><circle cx="608.7" cy="262.6" r="2.0"/><circle cx="608.7" cy="265.5" r="2.0"/><circle cx="608.7" cy="268.5" r="2.0"/><circle cx="608.7" cy="271.4" r="2.0"/><circle cx="608.7" cy="274.4" r="2.0"/><circle cx="608.7" cy="280.3" r="2.0"/><circle cx="608.7" cy="290.6" r="2.0"/><circle cx="608.7" cy="299.5" r="2.0"/></g>
<rect x="119.6" y="174.0" width="501.0" height="157.2" fill="none" stroke="#111" stroke-width="1.5"/>
<g stroke="#111" stroke-width="1.2"><line x1="119.6" y1="331.2" x2="125.8" y2="331.2"/><line x1="119.6" y1="324.6" x2="122.8" y2="324.6"/><line x1="119.6" y1="318.1" x2="122.8" y2="318.1"/><line x1="119.6" y1="311.6" x2="122.8" y2="311.6"/><line x1="119.6" y1="305.0" x2="125.8" y2="305.0"/><line x1="119.6" y1="298.4" x2="122.8" y2="298.4"/><line x1="119.6" y1="291.9" x2="122.8" y2="291.9"/><line x1="119.6" y1="285.4" x2="122.8" y2="285.4"/><line x1="119.6" y1="278.8" x2="125.8" y2="278.8"/><line x1="119.6" y1="272.2" x2="122.8" y2="272.2"/><line x1="119.6" y1="265.7" x2="122.8" y2="265.7"/><line x1="119.6" y1="259.1" x2="122.8" y2="259.1"/><line x1="119.6" y1="252.6" x2="125.8" y2="252.6"/><line x1="119.6" y1="246.1" x2="122.8" y2="246.1"/><line x1="119.6" y1="239.5" x2="122.8" y2="239.5"/><line x1="119.6" y1="232.9" x2="122.8" y2="232.9"/><line x1="119.6" y1="226.4" x2="125.8" y2="226.4"/><line x1="119.6" y1="219.9" x2="122.8" y2="219.9"/><line x1="119.6" y1="213.3" x2="122.8" y2="213.3"/><line x1="119.6" y1="206.8" x2="122.8" y2="206.8"/><line x1="119.6" y1="200.2" x2="125.8" y2="200.2"/><line x1="119.6" y1="193.7" x2="122.8" y2="193.7"/><line x1="119.6" y1="187.1" x2="122.8" y2="187.1"/><line x1="119.6" y1="180.6" x2="122.8" y2="180.6"/><line x1="119.6" y1="174.0" x2="125.8" y2="174.0"/></g>
<g font-size="11.5" text-anchor="end" fill="#000" stroke="#000" stroke-width="0.2"><text x="114.8" y="333.7">0</text><text x="112.6" y="286.0">40</text><text x="112.6" y="231.7">80</text><text x="115.5" y="180.3">120</text></g>
<text transform="translate(87.6,253.4) rotate(-90)" font-size="13.6" text-anchor="middle" fill="#000" stroke="#000" stroke-width="0.25">ARs per Mb</text>
<g stroke="#9d9d9d" stroke-width="1.3"><line x1="215.4" y1="341.0" x2="215.4" y2="498.2"/><line x1="289.1" y1="341.0" x2="289.1" y2="498.2"/><line x1="343.7" y1="341.0" x2="343.7" y2="498.2"/><line x1="388.0" y1="341.0" x2="388.0" y2="498.2"/><line x1="417.8" y1="341.0" x2="417.8" y2="498.2"/><line x1="435.0" y1="341.0" x2="435.0" y2="498.2"/><line x1="452.9" y1="341.0" x2="452.9" y2="498.2"/><line x1="468.0" y1="341.0" x2="468.0" y2="498.2"/><line x1="479.3" y1="341.0" x2="479.3" y2="498.2"/><line x1="489.4" y1="341.0" x2="489.4" y2="498.2"/><line x1="499.4" y1="341.0" x2="499.4" y2="498.2"/><line x1="509.3" y1="341.0" x2="509.3" y2="498.2"/><line x1="518.6" y1="341.0" x2="518.6" y2="498.2"/><line x1="526.1" y1="341.0" x2="526.1" y2="498.2"/><line x1="532.4" y1="341.0" x2="532.4" y2="498.2"/><line x1="537.8" y1="341.0" x2="537.8" y2="498.2"/><line x1="543.8" y1="341.0" x2="543.8" y2="498.2"/><line x1="548.4" y1="341.0" x2="548.4" y2="498.2"/><line x1="555.5" y1="341.0" x2="555.5" y2="498.2"/><line x1="558.8" y1="341.0" x2="558.8" y2="498.2"/><line x1="561.7" y1="341.0" x2="561.7" y2="498.2"/><line x1="564.2" y1="341.0" x2="564.2" y2="498.2"/><line x1="567.0" y1="341.0" x2="567.0" y2="498.2"/><line x1="569.2" y1="341.0" x2="569.2" y2="498.2"/><line x1="571.9" y1="341.0" x2="571.9" y2="498.2"/><line x1="574.3" y1="341.0" x2="574.3" y2="498.2"/><line x1="576.7" y1="341.0" x2="576.7" y2="498.2"/><line x1="579.5" y1="341.0" x2="579.5" y2="498.2"/></g>
<line x1="119.6" y1="470.5" x2="620.6" y2="470.5" stroke="#9d9d9d" stroke-width="1.8"/>
<g fill="#000"><path d="M120.4 498.2V489.6H120.8V498.2zM120.8 498.2V489.6H123.0V498.2zM123.0 498.2V493.6H125.5V498.2zM125.5 498.2V493.6H127.5V498.2zM127.5 498.2V490.4H129.5V498.2zM129.5 498.2V492.8H132.5V498.2zM132.5 498.2V492.8H135.8V498.2zM135.8 498.2V484.6H138.8V498.2zM138.8 498.2V486.6H141.0V498.2zM141.0 498.2V492.0H143.5V498.2zM143.5 498.2V492.0H146.3V498.2zM146.3 498.2V489.6H149.4V498.2zM149.4 498.2V481.6H152.6V498.2zM152.6 498.2V492.8H155.5V498.2zM155.5 498.2V492.8H158.8V498.2zM158.8 498.2V488.8H161.8V498.2zM161.8 498.2V492.0H165.2V498.2zM165.2 498.2V488.0H168.7V498.2zM168.7 498.2V491.2H171.8V498.2zM171.8 498.2V488.0H175.3V498.2zM175.3 498.2V493.6H179.0V498.2zM179.0 498.2V493.6H182.5V498.2zM182.5 498.2V494.4H185.7V498.2zM185.7 498.2V489.6H188.7V498.2zM188.7 498.2V493.6H191.5V498.2zM191.5 498.2V493.6H194.5V498.2zM194.5 498.2V492.0H197.5V498.2zM197.5 498.2V494.6H200.5V498.2zM200.5 498.2V494.6H202.8V498.2zM202.8 498.2V494.0H205.0V498.2zM205.0 498.2V485.6H207.2V498.2zM207.2 498.2V486.6H209.5V498.2zM209.5 498.2V492.8H213.0V498.2zM213.0 498.2V492.8H216.5V498.2zM216.5 498.2V492.0H219.5V498.2zM219.5 498.2V495.2H223.0V498.2zM223.0 498.2V495.2H226.5V498.2zM226.5 498.2V488.8H230.0V498.2zM230.0 498.2V488.8H233.8V498.2zM233.8 498.2V488.8H236.8V498.2zM236.8 498.2V490.6H239.0V498.2zM239.0 498.2V490.6H241.6V498.2zM241.6 498.2V488.6H244.6V498.2zM244.6 498.2V494.4H248.0V498.2zM248.0 498.2V494.4H252.0V498.2zM252.0 498.2V496.0H255.5V498.2zM255.5 498.2V496.0H258.5V498.2zM258.5 498.2V486.4H261.5V498.2zM261.5 498.2V495.2H264.5V498.2zM264.5 498.2V495.2H267.5V498.2zM267.5 498.2V492.8H270.5V498.2zM270.5 498.2V493.6H274.0V498.2zM274.0 498.2V493.6H278.0V498.2zM278.0 498.2V489.6H282.0V498.2zM282.0 498.2V489.6H285.5V498.2zM285.5 498.2V486.4H288.1V498.2zM288.1 498.2V490.8H290.6V498.2zM290.6 498.2V486.6H294.6V498.2zM294.6 498.2V486.6H298.6V498.2zM298.6 498.2V491.2H302.0V498.2zM302.0 498.2V491.2H306.4V498.2zM306.4 498.2V488.6H310.4V498.2zM310.4 498.2V490.4H314.0V498.2zM314.0 498.2V490.4H317.0V498.2zM317.0 498.2V492.0H320.0V498.2zM320.0 498.2V492.0H324.0V498.2zM324.0 498.2V490.4H328.0V498.2zM328.0 498.2V492.8H332.0V498.2zM332.0 498.2V492.8H335.5V498.2zM335.5 498.2V484.8H339.0V498.2zM339.0 498.2V484.8H342.4V498.2zM342.4 498.2V490.8H345.6V498.2zM345.6 498.2V482.4H349.8V498.2zM349.8 498.2V480.8H353.5V498.2zM353.5 498.2V481.6H356.8V498.2zM356.8 498.2V480.6H359.8V498.2zM359.8 498.2V492.0H362.5V498.2zM362.5 498.2V492.0H366.0V498.2zM366.0 498.2V482.4H369.5V498.2zM369.5 498.2V486.4H372.5V498.2zM372.5 498.2V492.8H375.5V498.2zM375.5 498.2V492.8H379.5V498.2zM379.5 498.2V484.8H381.8V498.2zM381.8 498.2V484.5H384.0V498.2zM384.0 498.2V492.0H387.0V498.2zM387.0 498.2V492.6H390.4V498.2zM390.4 498.2V478.4H394.4V498.2zM394.4 498.2V485.6H397.5V498.2zM397.5 498.2V480.8H401.0V498.2zM401.0 498.2V488.0H404.5V498.2zM404.5 498.2V488.0H407.5V498.2zM407.5 498.2V485.6H410.5V498.2zM410.5 498.2V480.0H414.0V498.2zM414.0 498.2V480.0H416.9V498.2zM416.9 498.2V490.8H419.4V498.2zM419.4 498.2V490.4H423.2V498.2zM423.2 498.2V478.6H426.8V498.2zM426.8 498.2V486.4H430.5V498.2zM430.5 498.2V486.4H434.0V498.2zM434.0 498.2V490.8H436.0V498.2zM436.0 498.2V485.6H439.3V498.2zM439.3 498.2V478.4H443.3V498.2zM443.3 498.2V486.4H446.5V498.2zM446.5 498.2V486.4H449.6V498.2zM449.6 498.2V477.6H452.0V498.2zM452.0 498.2V490.8H454.1V498.2zM454.1 498.2V476.8H456.6V498.2zM456.6 498.2V486.6H459.6V498.2zM459.6 498.2V484.6H462.6V498.2zM462.6 498.2V485.6H466.0V498.2zM466.0 498.2V490.8H470.0V498.2zM470.0 498.2V484.8H474.0V498.2zM474.0 498.2V484.8H477.5V498.2zM477.5 498.2V489.6H480.5V498.2zM480.5 498.2V489.6H483.5V498.2zM483.5 498.2V484.8H486.0V498.2zM486.0 498.2V484.8H489.4V498.2zM489.4 498.2V476.0H493.4V498.2zM493.4 498.2V483.2H496.5V498.2zM496.5 498.2V483.2H499.5V498.2zM499.5 498.2V488.0H502.5V498.2zM502.5 498.2V488.0H505.2V498.2zM505.2 498.2V478.4H507.8V498.2zM507.8 498.2V482.6H510.5V498.2zM510.5 498.2V478.6H513.5V498.2zM513.5 498.2V483.6H516.0V498.2zM516.0 498.2V484.8H517.5V498.2zM517.5 498.2V486.4H519.0V498.2zM519.0 498.2V486.4H521.6V498.2zM521.6 498.2V485.6H525.4V498.2zM525.4 498.2V486.4H528.8V498.2zM528.8 498.2V492.3H531.5V498.2zM531.5 498.2V492.3H534.5V498.2zM534.5 498.2V488.1H537.5V498.2zM537.5 498.2V492.3H540.0V498.2zM540.0 498.2V492.3H543.2V498.2zM543.2 498.2V485.6H546.8V498.2zM546.8 498.2V485.6H549.6V498.2zM549.6 498.2V488.1H553.1V498.2zM553.1 498.2V490.6H556.5V498.2zM556.5 498.2V490.6H560.0V498.2zM560.0 498.2V488.6H564.0V498.2zM564.0 498.2V489.6H567.0V498.2zM567.0 498.2V489.6H570.2V498.2zM570.2 498.2V488.1H574.2V498.2zM574.2 498.2V495.6H578.0V498.2zM578.0 498.2V493.1H581.5V498.2zM581.5 498.2V493.1H584.6V498.2zM584.6 498.2V483.9H588.1V498.2zM588.1 498.2V490.6H592.0V498.2zM592.0 498.2V490.6H595.5V498.2zM595.5 498.2V490.6H598.1V498.2zM598.1 498.2V487.3H602.0V498.2zM602.0 498.2V485.6H606.3V498.2zM606.3 498.2V485.6H609.5V498.2zM609.5 498.2V495.6H612.5V498.2zM612.5 498.2V495.6H615.5V498.2zM615.5 498.2V496.4H618.5V498.2zM618.5 498.2V496.4H619.8V498.2z"/><circle cx="120.6" cy="489.9" r="0.48"/><circle cx="121.9" cy="489.9" r="1.43"/><circle cx="124.2" cy="493.9" r="1.55"/><circle cx="126.5" cy="493.9" r="1.30"/><circle cx="128.5" cy="490.7" r="1.30"/><circle cx="131.0" cy="493.1" r="1.80"/><circle cx="134.2" cy="493.1" r="1.95"/><circle cx="137.3" cy="484.9" r="1.80"/><circle cx="139.9" cy="486.9" r="1.40"/><circle cx="142.2" cy="492.3" r="1.55"/><circle cx="144.9" cy="492.3" r="1.70"/><circle cx="147.8" cy="489.9" r="1.85"/><circle cx="151.0" cy="481.9" r="1.90"/><circle cx="154.1" cy="493.1" r="1.75"/><circle cx="157.1" cy="493.1" r="1.93"/><circle cx="160.2" cy="489.1" r="1.80"/><circle cx="163.4" cy="492.3" r="1.95"/><circle cx="166.9" cy="488.3" r="1.95"/><circle cx="170.2" cy="491.5" r="1.90"/><circle cx="173.6" cy="488.3" r="1.95"/><circle cx="177.2" cy="493.9" r="1.95"/><circle cx="180.8" cy="493.9" r="1.95"/><circle cx="184.1" cy="494.7" r="1.88"/><circle cx="187.2" cy="489.9" r="1.80"/><circle cx="190.1" cy="493.9" r="1.72"/><circle cx="193.0" cy="493.9" r="1.80"/><circle cx="196.0" cy="492.3" r="1.80"/><circle cx="199.0" cy="494.9" r="1.80"/><circle cx="201.6" cy="494.9" r="1.43"/><circle cx="203.9" cy="494.3" r="1.43"/><circle cx="206.1" cy="485.9" r="1.43"/><circle cx="208.4" cy="486.9" r="1.43"/><circle cx="211.2" cy="493.1" r="1.95"/><circle cx="214.8" cy="493.1" r="1.95"/><circle cx="218.0" cy="492.3" r="1.80"/><circle cx="221.2" cy="495.5" r="1.95"/><circle cx="224.8" cy="495.5" r="1.95"/><circle cx="228.2" cy="489.1" r="1.95"/><circle cx="231.9" cy="489.1" r="1.95"/><circle cx="235.3" cy="489.1" r="1.80"/><circle cx="237.9" cy="490.9" r="1.40"/><circle cx="240.3" cy="490.9" r="1.60"/><circle cx="243.1" cy="488.9" r="1.80"/><circle cx="246.3" cy="494.7" r="1.95"/><circle cx="250.0" cy="494.7" r="1.95"/><circle cx="253.8" cy="496.3" r="1.95"/><circle cx="257.0" cy="496.3" r="1.80"/><circle cx="260.0" cy="486.7" r="1.80"/><circle cx="263.0" cy="495.5" r="1.80"/><circle cx="266.0" cy="495.5" r="1.80"/><circle cx="269.0" cy="493.1" r="1.80"/><circle cx="272.2" cy="493.9" r="1.95"/><circle cx="276.0" cy="493.9" r="1.95"/><circle cx="280.0" cy="489.9" r="1.95"/><circle cx="283.8" cy="489.9" r="1.95"/><circle cx="286.8" cy="486.7" r="1.58"/><circle cx="289.3" cy="491.1" r="1.55"/><circle cx="292.6" cy="486.9" r="1.95"/><circle cx="296.6" cy="486.9" r="1.95"/><circle cx="300.3" cy="491.5" r="1.95"/><circle cx="304.2" cy="491.5" r="1.95"/><circle cx="308.4" cy="488.9" r="1.95"/><circle cx="312.2" cy="490.7" r="1.95"/><circle cx="315.5" cy="490.7" r="1.80"/><circle cx="318.5" cy="492.3" r="1.80"/><circle cx="322.0" cy="492.3" r="1.95"/><circle cx="326.0" cy="490.7" r="1.95"/><circle cx="330.0" cy="493.1" r="1.95"/><circle cx="333.8" cy="493.1" r="1.95"/><circle cx="337.2" cy="485.1" r="1.95"/><circle cx="340.7" cy="485.1" r="1.95"/><circle cx="344.0" cy="491.1" r="1.95"/><circle cx="347.7" cy="482.7" r="1.95"/><circle cx="351.6" cy="481.1" r="1.95"/><circle cx="355.1" cy="481.9" r="1.93"/><circle cx="358.2" cy="480.9" r="1.80"/><circle cx="361.1" cy="492.3" r="1.68"/><circle cx="364.2" cy="492.3" r="1.95"/><circle cx="367.8" cy="482.7" r="1.95"/><circle cx="371.0" cy="486.7" r="1.80"/><circle cx="374.0" cy="493.1" r="1.80"/><circle cx="377.5" cy="493.1" r="1.95"/><circle cx="380.6" cy="485.1" r="1.43"/><circle cx="382.9" cy="484.8" r="1.43"/><circle cx="385.5" cy="492.3" r="1.80"/><circle cx="388.7" cy="492.9" r="1.95"/><circle cx="392.4" cy="478.7" r="1.95"/><circle cx="395.9" cy="485.9" r="1.85"/><circle cx="399.2" cy="481.1" r="1.95"/><circle cx="402.8" cy="488.3" r="1.95"/><circle cx="406.0" cy="488.3" r="1.80"/><circle cx="409.0" cy="485.9" r="1.80"/><circle cx="412.2" cy="480.3" r="1.95"/><circle cx="415.4" cy="480.3" r="1.75"/><circle cx="418.1" cy="491.1" r="1.55"/><circle cx="421.3" cy="490.7" r="1.95"/><circle cx="425.0" cy="478.9" r="1.95"/><circle cx="428.6" cy="486.7" r="1.95"/><circle cx="432.2" cy="486.7" r="1.95"/><circle cx="435.0" cy="491.1" r="1.30"/><circle cx="437.6" cy="485.9" r="1.95"/><circle cx="441.3" cy="478.7" r="1.95"/><circle cx="444.9" cy="486.7" r="1.90"/><circle cx="448.1" cy="486.7" r="1.85"/><circle cx="450.8" cy="477.9" r="1.52"/><circle cx="453.1" cy="491.1" r="1.33"/><circle cx="455.4" cy="477.1" r="1.57"/><circle cx="458.1" cy="486.9" r="1.80"/><circle cx="461.1" cy="484.9" r="1.80"/><circle cx="464.3" cy="485.9" r="1.95"/><circle cx="468.0" cy="491.1" r="1.95"/><circle cx="472.0" cy="485.1" r="1.95"/><circle cx="475.8" cy="485.1" r="1.95"/><circle cx="479.0" cy="489.9" r="1.80"/><circle cx="482.0" cy="489.9" r="1.80"/><circle cx="484.8" cy="485.1" r="1.55"/><circle cx="487.7" cy="485.1" r="1.95"/><circle cx="491.4" cy="476.3" r="1.95"/><circle cx="494.9" cy="483.5" r="1.87"/><circle cx="498.0" cy="483.5" r="1.80"/><circle cx="501.0" cy="488.3" r="1.80"/><circle cx="503.9" cy="488.3" r="1.68"/><circle cx="506.5" cy="478.7" r="1.55"/><circle cx="509.1" cy="482.9" r="1.68"/><circle cx="512.0" cy="478.9" r="1.80"/><circle cx="514.8" cy="483.9" r="1.55"/><circle cx="516.8" cy="485.1" r="1.05"/><circle cx="518.2" cy="486.7" r="1.05"/><circle cx="520.3" cy="486.7" r="1.62"/><circle cx="523.5" cy="485.9" r="1.95"/><circle cx="527.1" cy="486.7" r="1.95"/><circle cx="530.1" cy="492.6" r="1.68"/><circle cx="533.0" cy="492.6" r="1.80"/><circle cx="536.0" cy="488.4" r="1.80"/><circle cx="538.8" cy="492.6" r="1.55"/><circle cx="541.6" cy="492.6" r="1.93"/><circle cx="545.0" cy="485.9" r="1.95"/><circle cx="548.2" cy="485.9" r="1.75"/><circle cx="551.4" cy="488.4" r="1.95"/><circle cx="554.8" cy="490.9" r="1.95"/><circle cx="558.2" cy="490.9" r="1.95"/><circle cx="562.0" cy="488.9" r="1.95"/><circle cx="565.5" cy="489.9" r="1.80"/><circle cx="568.6" cy="489.9" r="1.93"/><circle cx="572.2" cy="488.4" r="1.95"/><circle cx="576.1" cy="495.9" r="1.95"/><circle cx="579.8" cy="493.4" r="1.95"/><circle cx="583.1" cy="493.4" r="1.87"/><circle cx="586.4" cy="484.2" r="1.95"/><circle cx="590.1" cy="490.9" r="1.95"/><circle cx="593.8" cy="490.9" r="1.95"/><circle cx="596.8" cy="490.9" r="1.62"/><circle cx="600.0" cy="487.6" r="1.95"/><circle cx="604.1" cy="485.9" r="1.95"/><circle cx="607.9" cy="485.9" r="1.90"/><circle cx="611.0" cy="495.9" r="1.80"/><circle cx="614.0" cy="495.9" r="1.80"/><circle cx="617.0" cy="496.7" r="1.80"/><circle cx="619.2" cy="496.7" r="0.95"/></g>
<g fill="#000"><circle cx="137.6" cy="471.9" r="1.95"/><circle cx="137.8" cy="474.3" r="1.95"/><circle cx="137.6" cy="476.6" r="1.95"/><circle cx="137.5" cy="479.0" r="1.95"/><circle cx="137.6" cy="481.4" r="1.95"/><circle cx="137.6" cy="483.7" r="1.95"/><circle cx="137.8" cy="486.1" r="1.95"/><circle cx="242.9" cy="471.9" r="1.95"/><circle cx="243.2" cy="474.2" r="1.95"/><circle cx="243.0" cy="476.5" r="1.95"/><circle cx="243.0" cy="478.8" r="1.95"/><circle cx="243.4" cy="481.2" r="1.95"/><circle cx="243.2" cy="483.5" r="1.95"/><circle cx="243.2" cy="485.8" r="1.95"/><circle cx="243.4" cy="488.1" r="1.95"/><circle cx="292.3" cy="471.9" r="1.95"/><circle cx="292.0" cy="474.3" r="1.95"/><circle cx="292.1" cy="476.6" r="1.95"/><circle cx="292.0" cy="479.0" r="1.95"/><circle cx="292.0" cy="481.4" r="1.95"/><circle cx="292.1" cy="483.7" r="1.95"/><circle cx="292.0" cy="486.1" r="1.95"/><circle cx="297.3" cy="475.7" r="1.95"/><circle cx="297.3" cy="478.2" r="1.95"/><circle cx="297.6" cy="480.7" r="1.95"/><circle cx="297.4" cy="483.1" r="1.95"/><circle cx="297.6" cy="485.6" r="1.95"/><circle cx="297.6" cy="488.1" r="1.95"/><circle cx="308.6" cy="471.9" r="1.95"/><circle cx="308.8" cy="474.2" r="1.95"/><circle cx="309.1" cy="476.5" r="1.95"/><circle cx="309.0" cy="478.8" r="1.95"/><circle cx="308.5" cy="481.2" r="1.95"/><circle cx="308.5" cy="483.5" r="1.95"/><circle cx="308.8" cy="485.8" r="1.95"/><circle cx="308.5" cy="488.1" r="1.95"/><circle cx="358.3" cy="476.9" r="1.95"/><circle cx="358.2" cy="477.1" r="1.95"/><circle cx="426.1" cy="475.7" r="1.95"/><circle cx="426.2" cy="477.8" r="1.95"/><circle cx="426.3" cy="479.9" r="1.95"/><circle cx="425.8" cy="482.0" r="1.95"/><circle cx="426.2" cy="484.1" r="1.95"/><circle cx="461.4" cy="474.1" r="1.95"/><circle cx="461.1" cy="476.6" r="1.95"/><circle cx="461.6" cy="479.1" r="1.95"/><circle cx="461.6" cy="481.6" r="1.95"/><circle cx="461.1" cy="484.1" r="1.95"/><circle cx="468.3" cy="474.1" r="1.95"/><circle cx="467.9" cy="476.6" r="1.95"/><circle cx="468.0" cy="479.1" r="1.95"/><circle cx="468.3" cy="481.6" r="1.95"/><circle cx="468.2" cy="484.1" r="1.95"/><circle cx="511.8" cy="474.1" r="1.95"/><circle cx="512.0" cy="476.1" r="1.95"/><circle cx="512.0" cy="478.1" r="1.95"/><circle cx="511.9" cy="480.1" r="1.95"/><circle cx="523.1" cy="474.2" r="1.95"/><circle cx="523.2" cy="473.6" r="1.95"/><circle cx="523.5" cy="478.9" r="1.95"/><circle cx="523.0" cy="478.6" r="1.95"/><circle cx="523.3" cy="483.4" r="1.95"/><circle cx="523.3" cy="484.1" r="1.95"/><circle cx="561.7" cy="480.9" r="1.95"/><circle cx="561.9" cy="483.0" r="1.95"/><circle cx="562.1" cy="485.0" r="1.95"/><circle cx="562.0" cy="487.1" r="1.95"/><circle cx="604.3" cy="475.2" r="1.95"/><circle cx="604.9" cy="477.3" r="1.95"/><circle cx="604.8" cy="479.5" r="1.95"/><circle cx="604.9" cy="481.6" r="1.95"/><circle cx="604.3" cy="483.8" r="1.95"/><circle cx="604.4" cy="485.9" r="1.95"/><circle cx="604.3" cy="488.1" r="1.95"/><circle cx="602.2" cy="477.9" r="1.95"/><circle cx="601.8" cy="480.0" r="1.95"/><circle cx="601.7" cy="482.0" r="1.95"/><circle cx="601.9" cy="484.1" r="1.95"/></g>
<g fill="#e4320f"><circle cx="348.8" cy="459.6" r="1.95"/><circle cx="348.7" cy="461.9" r="1.95"/><circle cx="348.3" cy="464.2" r="1.95"/><circle cx="348.3" cy="466.5" r="1.95"/><circle cx="426.3" cy="453.8" r="1.95"/><circle cx="426.0" cy="455.1" r="1.95"/><circle cx="426.1" cy="464.3" r="1.95"/><circle cx="425.7" cy="466.5" r="1.95"/><circle cx="461.2" cy="465.3" r="1.95"/><circle cx="461.6" cy="467.3" r="1.95"/><circle cx="468.1" cy="465.3" r="1.95"/><circle cx="467.9" cy="467.3" r="1.95"/><circle cx="514.7" cy="455.7" r="1.95"/><circle cx="514.5" cy="458.5" r="1.95"/><circle cx="514.6" cy="461.3" r="1.95"/><circle cx="514.1" cy="464.1" r="1.95"/><circle cx="514.6" cy="466.9" r="1.95"/><circle cx="512.9" cy="459.9" r="1.95"/><circle cx="513.5" cy="462.2" r="1.95"/><circle cx="513.2" cy="464.6" r="1.95"/><circle cx="513.1" cy="466.9" r="1.95"/><circle cx="516.0" cy="459.9" r="1.95"/><circle cx="516.3" cy="462.2" r="1.95"/><circle cx="515.8" cy="464.6" r="1.95"/><circle cx="515.7" cy="466.9" r="1.95"/><circle cx="562.5" cy="467.5" r="1.95"/><circle cx="562.3" cy="467.7" r="1.95"/></g>
<g fill="#e4320f"><circle cx="440.8" cy="370.3" r="2.0"/><circle cx="440.8" cy="377.5" r="2.0"/><circle cx="440.8" cy="380.4" r="2.0"/><circle cx="440.8" cy="384.7" r="2.0"/><circle cx="440.8" cy="397.7" r="2.0"/><circle cx="440.8" cy="402.0" r="2.0"/><circle cx="440.8" cy="416.4" r="2.0"/><circle cx="440.8" cy="428.0" r="2.0"/><circle cx="440.8" cy="439.5" r="2.0"/><circle cx="440.8" cy="451.1" r="2.0"/><circle cx="440.8" cy="464.0" r="2.0"/><circle cx="440.8" cy="467.0" r="2.0"/><circle cx="603.2" cy="451.0" r="2.0"/><circle cx="603.2" cy="455.3" r="2.0"/><circle cx="603.2" cy="463.0" r="2.0"/><circle cx="514.3" cy="431.2" r="2.0"/><circle cx="514.3" cy="433.6" r="2.0"/><circle cx="514.3" cy="436.6" r="2.0"/><circle cx="514.3" cy="440.0" r="2.0"/><circle cx="514.3" cy="442.6" r="2.0"/><circle cx="514.3" cy="446.4" r="2.0"/><circle cx="514.3" cy="450.3" r="2.0"/><circle cx="523.0" cy="454.8" r="2.0"/><circle cx="523.0" cy="458.6" r="2.0"/><circle cx="523.0" cy="461.3" r="2.0"/><circle cx="523.0" cy="464.5" r="2.0"/><circle cx="523.0" cy="466.6" r="2.0"/><circle cx="523.0" cy="468.6" r="2.0"/></g>
<rect x="119.6" y="341.0" width="501.0" height="157.2" fill="none" stroke="#111" stroke-width="1.5"/>
<g stroke="#111" stroke-width="1.2"><line x1="119.6" y1="498.2" x2="125.8" y2="498.2"/><line x1="119.6" y1="488.4" x2="122.8" y2="488.4"/><line x1="119.6" y1="478.6" x2="122.8" y2="478.6"/><line x1="119.6" y1="468.7" x2="122.8" y2="468.7"/><line x1="119.6" y1="458.9" x2="125.8" y2="458.9"/><line x1="119.6" y1="449.1" x2="122.8" y2="449.1"/><line x1="119.6" y1="439.2" x2="122.8" y2="439.2"/><line x1="119.6" y1="429.4" x2="122.8" y2="429.4"/><line x1="119.6" y1="419.6" x2="125.8" y2="419.6"/><line x1="119.6" y1="409.8" x2="122.8" y2="409.8"/><line x1="119.6" y1="399.9" x2="122.8" y2="399.9"/><line x1="119.6" y1="390.1" x2="122.8" y2="390.1"/><line x1="119.6" y1="380.3" x2="125.8" y2="380.3"/><line x1="119.6" y1="370.5" x2="122.8" y2="370.5"/><line x1="119.6" y1="360.6" x2="122.8" y2="360.6"/><line x1="119.6" y1="350.8" x2="122.8" y2="350.8"/><line x1="119.6" y1="341.0" x2="125.8" y2="341.0"/></g>
<g font-size="11.5" text-anchor="end" fill="#000" stroke="#000" stroke-width="0.2"><text x="114.0" y="502.7">0</text><text x="113.8" y="423.0">40</text><text x="114.8" y="345.1">80</text></g>
<text transform="translate(87.6,421.7) rotate(-90)" font-size="13.6" text-anchor="middle" fill="#000" stroke="#000" stroke-width="0.25">ARs per Mb</text>
<!-- panel letters -->
<g font-weight="bold" font-size="18.4" fill="#000">
<text x="0.4" y="15.8">A</text>
<text x="1.2" y="192.9">B</text>
<text x="0.2" y="371" font-size="19.6">C</text>
<text x="1.6" y="530.1" font-size="16.4">D</text>
</g>
<!-- birds -->
<g fill="#000">
<path d="M3.4,109.6 L14.4,96.6 C17,93.5 21,89 24.5,85.5 C29,81 34,76.5 38.5,72 C40.5,70.2 42.4,68.6 43.2,66.8 C43.6,63.8 44.5,61 46.4,58.8 C48,57.2 50.2,56.4 53.4,56.3 C55.5,56.3 57.5,57 58.6,57.7 L66.9,58.2 L67,58.8 L59.3,60.4 C57.6,61.8 56.6,63.6 56.5,66 C56.9,68.6 57.4,71 57.3,74 C57.1,77.5 56.6,80.8 55.3,83.7 C54,87 52.5,89.6 50.4,91.7 C48.5,93.8 46.5,95.3 44,96.5 C41.5,97.5 38.8,98 36,98.1 L29.8,97.7 L19.2,98.6 L6,111.2 C5,111.8 3.8,111.5 3.2,110.8 Z"/><path d="M30.6,97.5 L36.8,97.5 L35.6,101.6 L32.4,101.6 Z"/>
<path d="M56.1,217.4 C59,217.6 62,218.3 63.6,219.7 C65.5,221.3 66.5,223 66.6,225 C66.9,228 66.6,231 65.2,234.8 L63.8,236.2 C63.4,234.5 63.2,233.4 62.6,232.8 C61.5,233.5 60.6,234.8 60.4,235.5 C59.6,238 59.3,240 59.1,241.5 C58.9,245 58.5,248 58.1,249 C57.3,252 56.5,254 55.8,256.3 C54.9,258.5 53.8,260.5 53,262.1 L52.3,266.7 L39.4,272.7 L36.4,275.8 C34.5,283 33,290 31,296.7 C29.8,300.5 28,303.5 25.8,305.3 L22.2,306.2 L20.2,305.4 L19.4,304.6 L17.4,305.4 C16.9,300.5 17.5,296 18.3,291.5 C19,287.5 20,284 20.8,280.5 C21.4,277 21.6,272.5 22,268.2 C22.6,263.5 23.2,258.5 24.2,254.5 C25.5,249.5 27,245 28.8,240.9 C30.6,237.6 32.6,235.3 34.8,233.3 C36.8,231.4 39,229.6 40.9,228 C42.6,226.4 44,224.4 45.5,222.7 C47,220.9 48.4,219.6 50,218.9 C52,217.9 54,217.3 56.1,217.4 Z"/>
<path d="M22.2,404.2 C22.6,409 23.3,413.5 24.7,418.2 C26,423.5 27.7,428.6 29.5,433.6 L30.9,435.5 L27.5,441.3 C25.8,445.5 24.2,449.8 22.7,453.9 L22.3,455.2 L24.7,456.8 L26.3,456 L27.6,459 L29,459.7 L30.2,458 L31.6,461 L32.9,461.6 L33.9,459 L35.8,461.4 L38.2,461.6 L37.8,457 C37.2,454 36.6,451.5 36.2,449 L37.2,445.2 C39.6,444.8 42,444.2 44,443.3 C46.2,441.6 48.2,439.6 49.7,437.5 C51.2,435.6 52.5,433.6 53.6,431.7 L56.5,431.3 L67.1,431.9 L67.2,431.4 L56.5,429.4 C55.5,428.5 54.6,428 53.6,427.5 C52,426.6 50.4,426.2 48.8,426.3 C47,426.4 45.3,427 44,427.8 C43.1,428.8 42.5,430.2 42,431.7 L39.1,423 C38,419.5 36.9,416 35.8,412.4 C34.9,409.2 34.1,406 33.3,402.7 L32.4,400.3 L31.6,400.6 C31.2,404 30.8,407.5 30.4,410.9 C28.6,408.3 26.5,406 24.4,404.5 C23.6,404 22.9,404 22.2,404.2 Z"/>
<line x1="10.6" y1="284.6" x2="65.2" y2="263.2" stroke="#000" stroke-width="4.2" stroke-linecap="round"/><ellipse cx="53.6" cy="267.6" rx="1.5" ry="2.4"/>
</g>
<g stroke="#000" stroke-width="1.1" fill="none">
<path d="M32.2,100 L39.6,111.1 M35.4,100 L43.6,111.1"/>
<path d="M29.8,110.9 Q42,112.7 55.4,111.9" stroke-width="1.1"/>
</g>
<!-- gene labels -->
<g font-style="italic" font-size="12" fill="#000" stroke="#000" stroke-width="0.3">
<text x="126.7" y="130.9" textLength="42.8" lengthAdjust="spacingAndGlyphs">FOXP2</text>
<text x="223.7" y="115.9" textLength="62.3" lengthAdjust="spacingAndGlyphs">NEUROD6</text>
<text x="328.2" y="131.4" textLength="49.8" lengthAdjust="spacingAndGlyphs">PCDH10</text>
<text x="563.9" y="25.2" textLength="40.5" lengthAdjust="spacingAndGlyphs">NR2F1</text>
<text x="560.8" y="39.6" textLength="43.8" lengthAdjust="spacingAndGlyphs">MEF2C</text>
<text x="176.0" y="285.9" textLength="38.6" lengthAdjust="spacingAndGlyphs">KLHL1</text>
<text x="280.5" y="267.2" textLength="39.2" lengthAdjust="spacingAndGlyphs">LDST3</text>
<text x="315.1" y="281" textLength="45.6" lengthAdjust="spacingAndGlyphs">KLHL29</text>
<text x="348.8" y="294.7" textLength="41.4" lengthAdjust="spacingAndGlyphs">NDST3</text>
<text x="389.5" y="254.6" textLength="34.8" lengthAdjust="spacingAndGlyphs">SOX6</text>
<text x="399.1" y="200.8" textLength="92.6" lengthAdjust="spacingAndGlyphs">ZEB2/ARGAP15</text>
<text x="474.2" y="241.8" textLength="34.7" lengthAdjust="spacingAndGlyphs">CDH8</text>
<text x="498.9" y="263.1" textLength="44.0" lengthAdjust="spacingAndGlyphs">TENM2</text>
<text x="577.9" y="250.8" textLength="40.9" lengthAdjust="spacingAndGlyphs">NR2F1</text>
<text x="129.5" y="448.3" textLength="44.3" lengthAdjust="spacingAndGlyphs">KCNC2</text>
<text x="129.6" y="462.3" textLength="43.4" lengthAdjust="spacingAndGlyphs">TRHDE</text>
<text x="328.7" y="435.2" textLength="45.8" lengthAdjust="spacingAndGlyphs">GABRQ</text>
<text x="328.7" y="449" textLength="51.6" lengthAdjust="spacingAndGlyphs">SLITRK4</text>
<text x="429.6" y="360.7" textLength="56.4" lengthAdjust="spacingAndGlyphs">/PARD3B</text>
<text x="490.3" y="420.2" textLength="43.2" lengthAdjust="spacingAndGlyphs">TENM2</text>
<text x="520.3" y="445.6" textLength="49.6" lengthAdjust="spacingAndGlyphs">RBFOX1</text>
<text x="542.9" y="459.6" textLength="32.4" lengthAdjust="spacingAndGlyphs">SYT1</text>
<text x="578.9" y="441.2" textLength="39.8" lengthAdjust="spacingAndGlyphs">EFNA5</text>
</g>
<g font-size="12" fill="#000" stroke="#000" stroke-width="0.3">
<text x="370.3" y="269.3" textLength="45.7" lengthAdjust="spacingAndGlyphs">BCL11B</text>
<text x="399.0" y="360.7" textLength="31.2" lengthAdjust="spacingAndGlyphs">NRP2</text>
</g>
<!-- chromosome labels -->
<g font-size="12" fill="#000" stroke="#000" stroke-width="0.2" text-anchor="middle">
<text x="162.8" y="516">1</text>
<text x="246.7" y="516">2</text>
<text x="314.9" y="516">3</text>
<text x="361" y="516">4</text>
<text x="398.7" y="516">5</text>
<text x="421.8" y="516">6</text>
<text x="441" y="516">7</text>
<text x="459.6" y="516">8</text>
<text x="473.9" y="516">9</text>
<text x="533.7" y="519.2" font-size="13.2" textLength="50.6" lengthAdjust="spacingAndGlyphs">10-28,W</text>
<text x="594.9" y="516">Z</text>
</g>
<text x="297.9" y="531.4" font-size="13.6" fill="#000" textLength="136.6" lengthAdjust="spacingAndGlyphs">Chicken Chromosome</text>
<!-- panel D -->
<text x="6.4" y="558.4" font-size="14.1" fill="#000" textLength="66.6" lengthAdjust="spacingAndGlyphs">Chr 1 (Mb)</text>
<g font-size="13.6" fill="#000" stroke="#000" stroke-width="0.2" text-anchor="middle">
<text x="111.7" y="551.9">25.0</text>
<text x="278.8" y="551.9">25.5</text>
<text x="445.1" y="551.9">26.0</text>
<text x="610.5" y="551.9">26.5</text>
</g>
<g stroke="#222" stroke-width="1.2"><line x1="77.6" y1="565.1" x2="610" y2="565.1"/><line x1="78.0" y1="557.1" x2="78.0" y2="565.6"/><line x1="111.2" y1="557.1" x2="111.2" y2="565.6"/><line x1="144.4" y1="557.1" x2="144.4" y2="565.6"/><line x1="177.7" y1="557.1" x2="177.7" y2="565.6"/><line x1="210.9" y1="557.1" x2="210.9" y2="565.6"/><line x1="244.1" y1="557.1" x2="244.1" y2="565.6"/><line x1="277.3" y1="557.1" x2="277.3" y2="565.6"/><line x1="310.5" y1="557.1" x2="310.5" y2="565.6"/><line x1="343.8" y1="557.1" x2="343.8" y2="565.6"/><line x1="377.0" y1="557.1" x2="377.0" y2="565.6"/><line x1="410.2" y1="557.1" x2="410.2" y2="565.6"/><line x1="443.4" y1="557.1" x2="443.4" y2="565.6"/><line x1="476.6" y1="557.1" x2="476.6" y2="565.6"/><line x1="509.9" y1="557.1" x2="509.9" y2="565.6"/><line x1="543.1" y1="557.1" x2="543.1" y2="565.6"/><line x1="576.3" y1="557.1" x2="576.3" y2="565.6"/><line x1="609.5" y1="557.1" x2="609.5" y2="565.6"/></g>
<rect x="77.5" y="569.8" width="532" height="160" fill="#f9f9f9" stroke="#b5b5b5" stroke-width="1"/>
<polygon fill="#e8931f" points="84.4,658.3 84.4,649.9 148.5,649.9 148.5,658.3"/><polygon fill="#e8931f" points="160.8,658.3 160.8,649.9 167.8,649.9 167.8,633.2 220.6,633.2 220.6,624.8 230.7,624.8 230.7,616.4 234.4,616.4 234.4,599.7 250.9,599.7 250.9,591.3 261.5,591.3 261.5,583.0 295.6,583.0 295.6,591.3 299.3,591.3 299.3,599.7 315.8,599.7 315.8,608.1 346.0,608.1 346.0,633.2 361.8,633.2 361.8,599.7 416.0,599.7 416.0,608.1 422.4,608.1 422.4,624.8 426.1,624.8 426.1,641.6 482.4,641.6 482.4,633.2 533.0,633.2 533.0,641.6 543.6,641.6 543.6,649.9 552.5,649.9 552.5,641.6 609.3,641.6 609.3,658.3"/>
<g stroke="#cfcfcf" stroke-width="1">
<line x1="78" y1="658.6" x2="609" y2="658.6" stroke="#d4d4d4"/>
<line x1="78" y1="680.6" x2="609" y2="680.6"/>
<line x1="78" y1="702.8" x2="609" y2="702.8"/>
</g>
<g stroke="#555" stroke-width="0.9"><line x1="116.7" y1="661.8" x2="116.7" y2="667.6"/><line x1="192.3" y1="661.8" x2="192.3" y2="667.6"/><line x1="201.9" y1="661.8" x2="201.9" y2="667.6"/><line x1="241" y1="661.8" x2="241" y2="667.6"/><line x1="247.3" y1="661.8" x2="247.3" y2="667.6"/><line x1="251.5" y1="661.8" x2="251.5" y2="667.6"/><line x1="263.3" y1="661.8" x2="263.3" y2="667.6"/><line x1="274.1" y1="661.8" x2="274.1" y2="667.6"/><line x1="275.1" y1="661.8" x2="275.1" y2="667.6"/><line x1="279.8" y1="661.8" x2="279.8" y2="667.6"/><line x1="283.1" y1="661.8" x2="283.1" y2="667.6"/><line x1="288.3" y1="661.8" x2="288.3" y2="667.6"/><line x1="294.4" y1="661.8" x2="294.4" y2="667.6"/><line x1="322.4" y1="661.8" x2="322.4" y2="667.6"/><line x1="336.2" y1="661.8" x2="336.2" y2="667.6"/><line x1="353.9" y1="661.8" x2="353.9" y2="667.6"/><line x1="355.9" y1="661.8" x2="355.9" y2="667.6"/><line x1="384.6" y1="661.8" x2="384.6" y2="667.6"/><line x1="456.2" y1="661.8" x2="456.2" y2="667.6"/><line x1="458.9" y1="661.8" x2="458.9" y2="667.6"/><line x1="500.3" y1="661.8" x2="500.3" y2="667.6"/><line x1="510.4" y1="661.8" x2="510.4" y2="667.6"/><line x1="513.1" y1="661.8" x2="513.1" y2="667.6"/><line x1="555.9" y1="661.8" x2="555.9" y2="667.6"/><line x1="585.5" y1="661.8" x2="585.5" y2="667.6"/><line x1="594.3" y1="661.8" x2="594.3" y2="667.6"/></g><g stroke="#111" stroke-width="1.4"><line x1="266" y1="661.8" x2="266" y2="667.6"/><line x1="313.2" y1="661.8" x2="313.2" y2="667.6"/><line x1="391" y1="661.8" x2="391" y2="667.6"/><line x1="392.6" y1="661.8" x2="392.6" y2="667.6"/></g>
<g font-size="14.1" fill="#000" stroke="#000" stroke-width="0.2">
<text x="10.3" y="620.7" textLength="62.4" lengthAdjust="spacingAndGlyphs">AR/100kb</text>
<text x="1.5" y="675.7" textLength="74.1" lengthAdjust="spacingAndGlyphs">Oscine ARs</text>
<text x="21.8" y="696.6" textLength="53.6" lengthAdjust="spacingAndGlyphs">+ Strand</text>
<text x="25.2" y="719.1" textLength="50.2" lengthAdjust="spacingAndGlyphs">- Strand</text>
</g>
<g fill="#1010a8">
<rect x="207.5" y="684.3" width="20.8" height="4.9"/>
<rect x="567" y="684.2" width="8.6" height="5.3"/>
<rect x="83.3" y="706.7" width="29.5" height="4.9"/>
<rect x="131.4" y="706.7" width="4.2" height="4.9"/>
<rect x="137.8" y="706.7" width="2.2" height="4.9"/>
<rect x="169.9" y="706.7" width="8" height="4.9"/>
<rect x="366.9" y="706.8" width="16.6" height="4.7"/>
<rect x="414.4" y="706.7" width="138.7" height="5.2"/>
<rect x="564" y="706.7" width="0.9" height="5.2"/>
</g>
<g font-style="italic" font-size="11" fill="#000" stroke="#000" stroke-width="0.25">
<text x="205.5" y="699.2" textLength="24.5" lengthAdjust="spacingAndGlyphs">TFEC</text>
<text x="546.5" y="700.6" textLength="47.1" lengthAdjust="spacingAndGlyphs">PPP1R3A</text>
<text x="87" y="723" textLength="22.2" lengthAdjust="spacingAndGlyphs">MET</text>
<text x="123.2" y="722.6" textLength="27.5" lengthAdjust="spacingAndGlyphs">CAV1</text>
<text x="163.8" y="723" textLength="17.4" lengthAdjust="spacingAndGlyphs">TES</text>
<text x="355" y="722" textLength="34.9" lengthAdjust="spacingAndGlyphs">MDFIC</text>
<text x="470.4" y="723.4" textLength="34.1" lengthAdjust="spacingAndGlyphs">FOXP2</text>
</g>

</svg>
</body></html>
